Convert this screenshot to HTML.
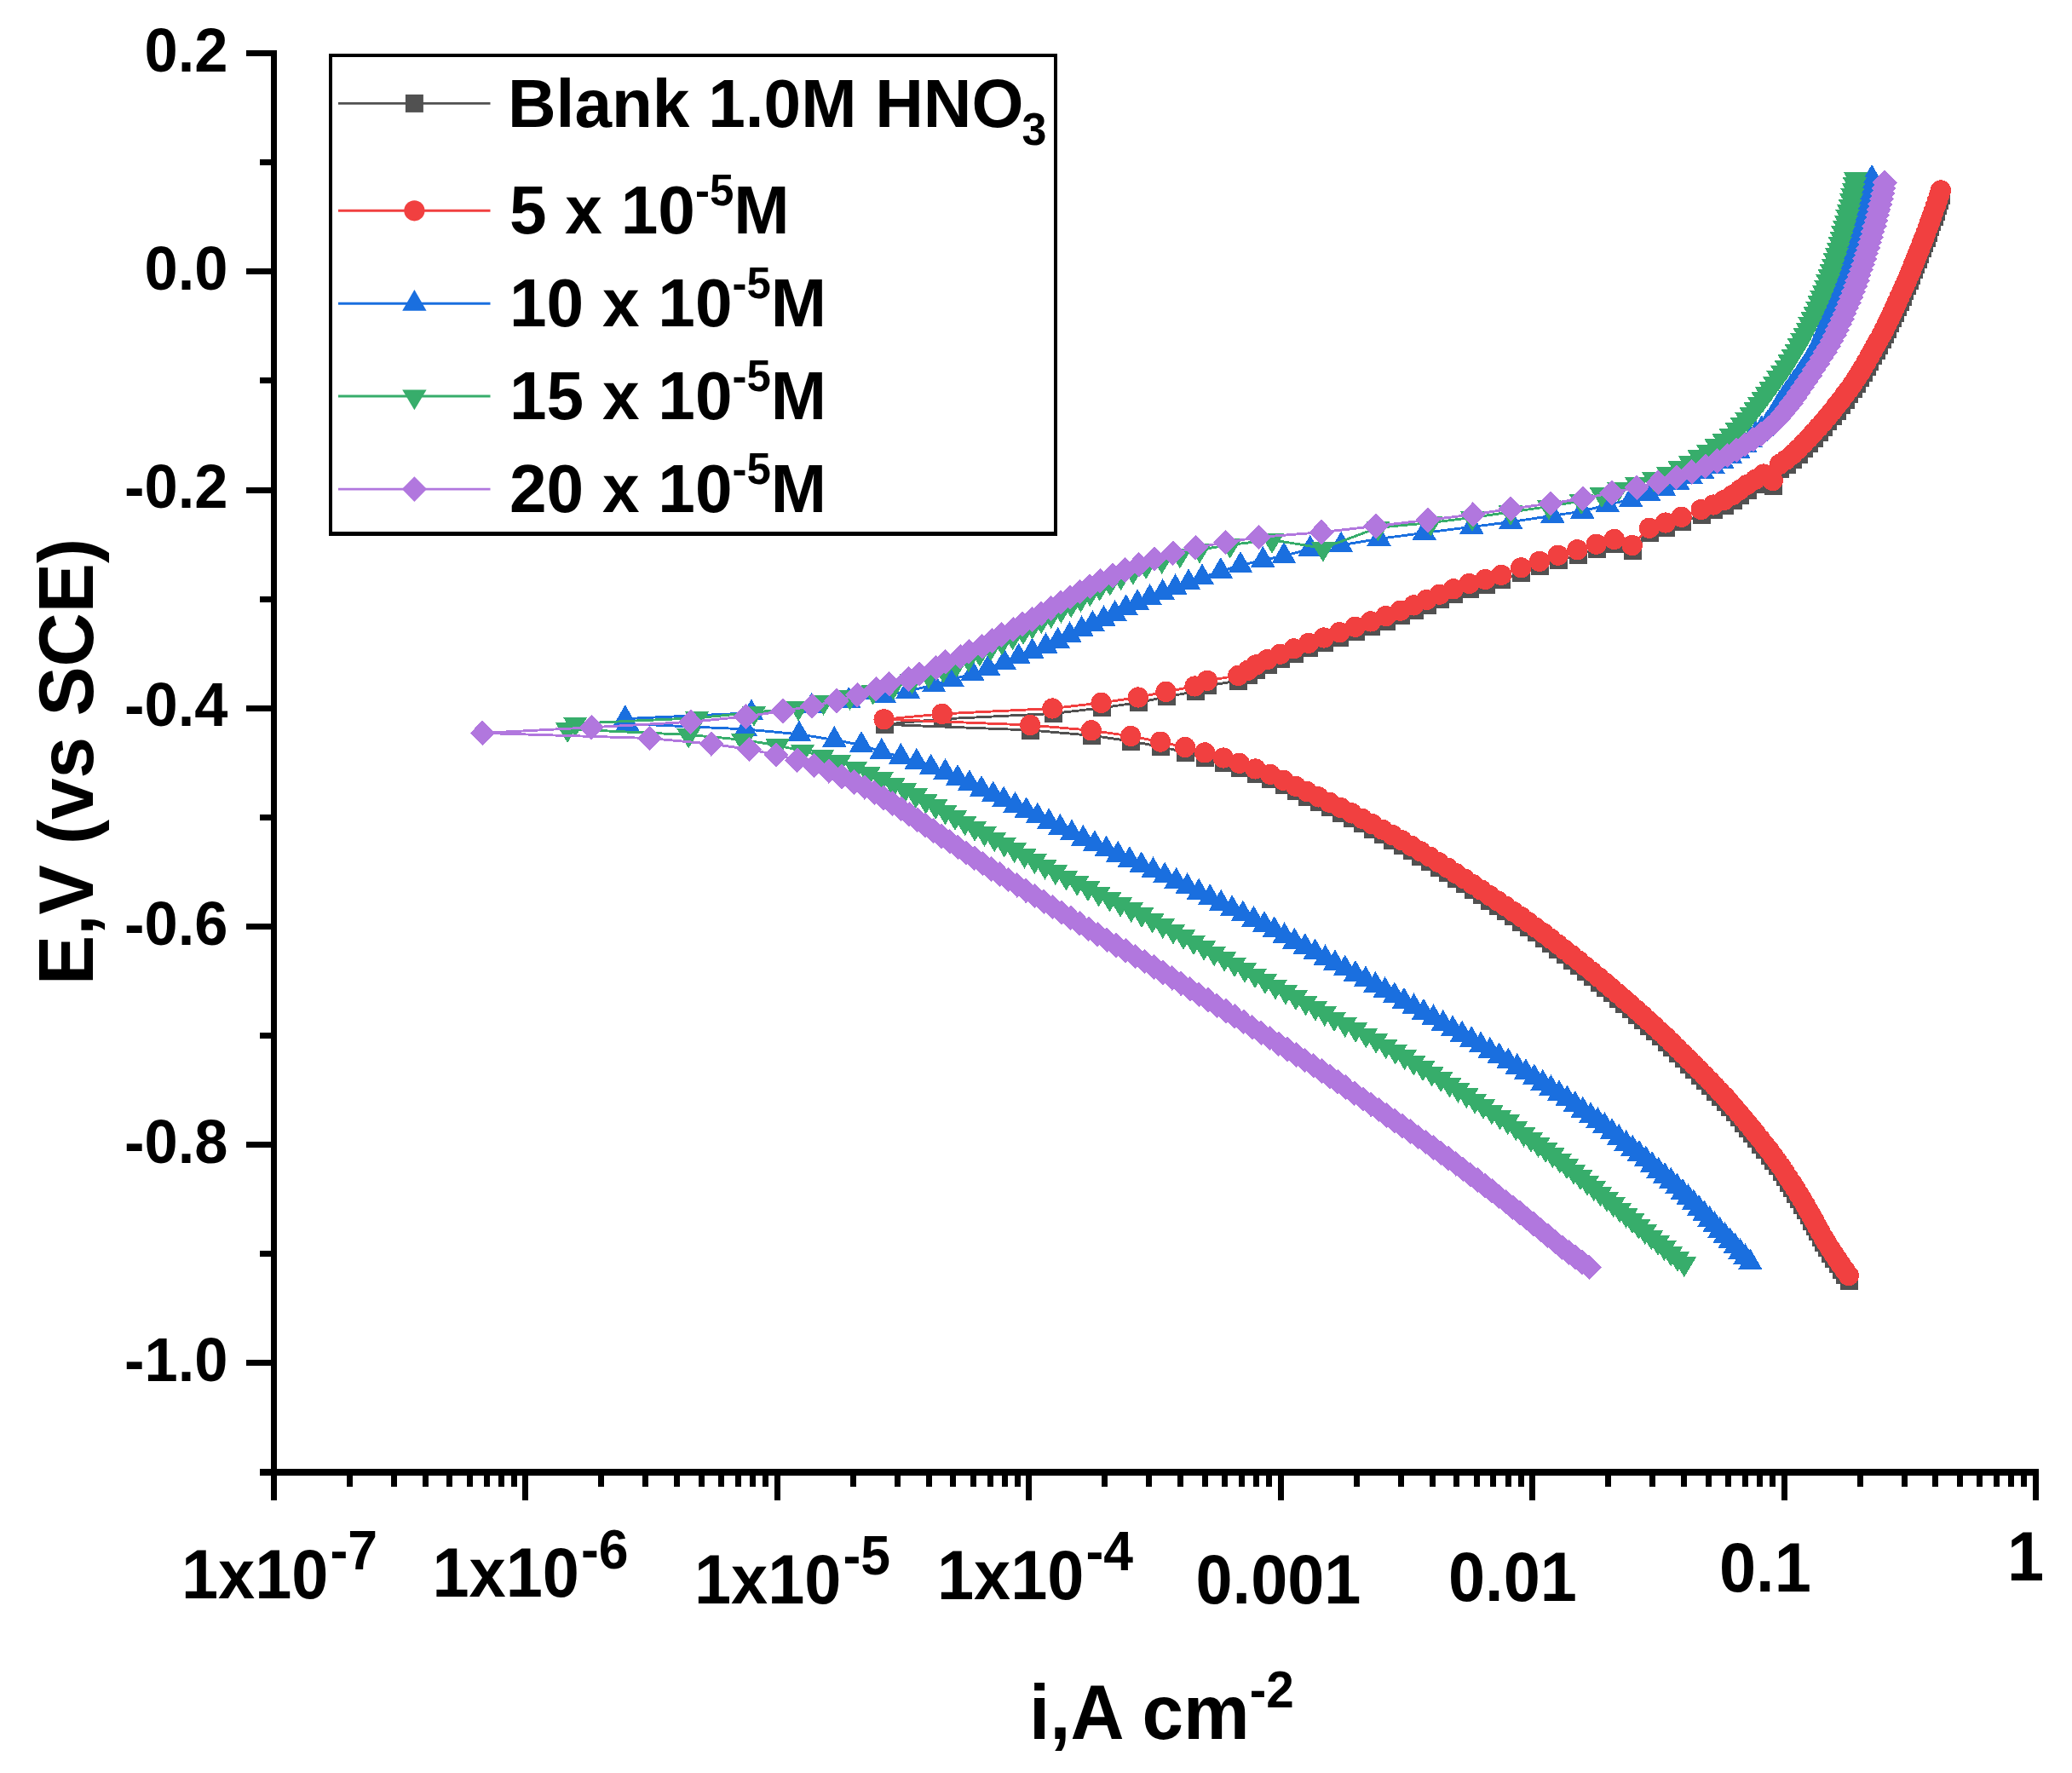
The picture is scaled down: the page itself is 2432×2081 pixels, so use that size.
<!DOCTYPE html>
<html lang="en"><head><meta charset="utf-8"><title>Polarization curves</title>
<style>html,body{margin:0;padding:0;background:#fff}svg{display:block}text{font-family:"Liberation Sans", Arial, Helvetica, sans-serif;font-weight:700;fill:#000}</style></head><body>
<svg width="2432" height="2081" viewBox="0 0 2432 2081">
<rect x="0" y="0" width="2432" height="2081" fill="#fff"/>
<g shape-rendering="crispEdges">
<polyline points="2170.5,1503.1 2165.9,1496.7 2161.4,1490.3 2157.1,1483.9 2152.8,1477.5 2148.6,1471.1 2144.6,1464.7 2140.8,1458.4 2137.1,1452.0 2133.6,1445.7 2130.1,1439.3 2126.7,1433.0 2123.2,1426.7 2119.6,1420.3 2115.8,1414.0 2111.9,1407.6 2107.9,1401.1 2103.8,1394.7 2099.6,1388.2 2095.4,1381.8 2091.0,1375.3 2086.5,1368.9 2081.8,1362.5 2077.0,1356.0 2071.9,1349.6 2066.8,1343.1 2061.7,1336.7 2056.7,1330.5 2051.7,1324.3 2046.6,1318.1 2041.4,1311.9 2036.1,1305.7 2030.6,1299.5 2025.1,1293.3 2019.4,1287.2 2013.6,1281.0 2007.7,1274.8 2001.5,1268.4 1995.3,1262.0 1988.9,1255.6 1982.5,1249.2 1976.1,1242.8 1969.5,1236.3 1962.9,1229.7 1956.1,1223.2 1949.3,1216.8 1942.4,1210.4 1935.5,1204.1 1928.4,1197.7 1921.3,1191.3 1914.1,1184.9 1906.9,1178.5 1899.5,1172.1 1892.1,1165.8 1884.6,1159.4 1877.0,1153.0 1869.2,1146.5 1861.3,1140.1 1853.4,1133.6 1845.3,1127.1 1837.2,1120.7 1828.9,1114.2 1820.5,1107.7 1812.0,1101.2 1803.3,1094.8 1794.5,1088.3 1785.8,1082.0 1776.7,1075.8 1767.5,1069.5 1758.2,1063.3 1748.8,1057.0 1739.1,1050.5 1729.3,1044.0 1719.5,1037.5 1709.6,1031.1 1699.5,1024.6 1689.2,1018.1 1678.6,1011.6 1667.9,1005.2 1657.1,998.8 1646.0,992.4 1634.7,986.0 1623.2,979.6 1611.4,973.2 1599.4,966.8 1587.1,960.4 1574.4,954.1 1561.3,947.8 1548.1,941.4 1534.7,935.1 1521.3,928.7 1507.0,921.8 1491.5,914.9 1474.1,908.5 1455.3,901.8 1436.4,895.5 1414.7,889.4 1391.6,883.0 1362.6,876.6 1327.8,870.0 1281.5,863.3 1209.7,857.0 1038.2,850.3 1106.3,843.9 1236.0,837.5 1293.1,830.9 1336.5,824.5 1369.0,817.9 1403.1,811.5 1417.6,804.8 1453.8,799.0 1465.7,792.7 1474.9,786.4 1488.2,780.0 1503.2,773.7 1519.4,767.3 1536.6,760.9 1554.5,754.5 1572.8,748.2 1591.2,741.8 1609.5,735.4 1627.3,729.1 1644.3,722.7 1660.1,716.4 1675.1,710.0 1690.3,703.7 1706.6,697.3 1725.1,691.0 1744.0,686.0 1762.8,680.9 1785.9,672.2 1807.6,664.9 1829.4,657.7 1852.0,651.3 1874.3,644.7 1895.4,638.9 1916.3,646.1 1936.5,625.8 1955.4,619.5 1974.2,612.8 1997.3,604.0 2011.7,598.5 2024.3,593.0 2034.3,587.0 2042.6,581.0 2051.1,575.0 2060.8,568.8 2070.6,562.5 2081.3,570.1 2089.6,550.8 2097.0,545.6 2104.5,539.3 2111.3,533.0 2117.5,526.6 2123.4,520.3 2129.2,514.0 2135.0,507.6 2140.6,501.3 2145.9,494.9 2151.1,488.6 2156.2,482.2 2161.2,475.8 2166.1,469.3 2170.8,462.9 2175.3,456.4 2179.6,450.0 2183.7,443.6 2187.5,437.2 2191.3,430.7 2194.9,424.3 2198.5,417.9 2202.0,411.5 2205.5,405.2 2209.0,398.8 2212.3,392.5 2215.5,386.1 2218.6,379.8 2221.6,373.4 2224.5,367.1 2227.3,360.7 2230.2,354.4 2233.0,348.1 2235.8,341.9 2238.6,335.6 2241.3,329.4 2243.9,323.1 2246.4,316.9 2248.9,310.6 2251.4,304.4 2253.9,298.1 2256.3,291.9 2258.7,285.6 2261.1,279.4 2263.4,273.1 2265.7,266.9 2267.9,260.6 2270.1,254.4 2272.3,248.1 2274.4,241.9 2276.5,235.6 2278.5,229.4" fill="none" stroke="#515151" stroke-width="2.9" stroke-linejoin="round"/>
<path d="M2160.0 1492.6h21.0v21.0h-21.0zM2155.4 1486.2h21.0v21.0h-21.0zM2150.9 1479.8h21.0v21.0h-21.0zM2146.6 1473.4h21.0v21.0h-21.0zM2142.3 1467.0h21.0v21.0h-21.0zM2138.1 1460.6h21.0v21.0h-21.0zM2134.1 1454.2h21.0v21.0h-21.0zM2130.3 1447.9h21.0v21.0h-21.0zM2126.6 1441.5h21.0v21.0h-21.0zM2123.1 1435.2h21.0v21.0h-21.0zM2119.6 1428.8h21.0v21.0h-21.0zM2116.2 1422.5h21.0v21.0h-21.0zM2112.7 1416.2h21.0v21.0h-21.0zM2109.1 1409.8h21.0v21.0h-21.0zM2105.3 1403.5h21.0v21.0h-21.0zM2101.4 1397.1h21.0v21.0h-21.0zM2097.4 1390.6h21.0v21.0h-21.0zM2093.3 1384.2h21.0v21.0h-21.0zM2089.1 1377.7h21.0v21.0h-21.0zM2084.9 1371.3h21.0v21.0h-21.0zM2080.5 1364.8h21.0v21.0h-21.0zM2076.0 1358.4h21.0v21.0h-21.0zM2071.3 1352.0h21.0v21.0h-21.0zM2066.5 1345.5h21.0v21.0h-21.0zM2061.4 1339.1h21.0v21.0h-21.0zM2056.3 1332.6h21.0v21.0h-21.0zM2051.2 1326.2h21.0v21.0h-21.0zM2046.2 1320.0h21.0v21.0h-21.0zM2041.2 1313.8h21.0v21.0h-21.0zM2036.1 1307.6h21.0v21.0h-21.0zM2030.9 1301.4h21.0v21.0h-21.0zM2025.6 1295.2h21.0v21.0h-21.0zM2020.1 1289.0h21.0v21.0h-21.0zM2014.6 1282.8h21.0v21.0h-21.0zM2008.9 1276.7h21.0v21.0h-21.0zM2003.1 1270.5h21.0v21.0h-21.0zM1997.2 1264.3h21.0v21.0h-21.0zM1991.0 1257.9h21.0v21.0h-21.0zM1984.8 1251.5h21.0v21.0h-21.0zM1978.4 1245.1h21.0v21.0h-21.0zM1972.0 1238.7h21.0v21.0h-21.0zM1965.6 1232.3h21.0v21.0h-21.0zM1959.0 1225.8h21.0v21.0h-21.0zM1952.4 1219.2h21.0v21.0h-21.0zM1945.6 1212.7h21.0v21.0h-21.0zM1938.8 1206.3h21.0v21.0h-21.0zM1931.9 1199.9h21.0v21.0h-21.0zM1925.0 1193.6h21.0v21.0h-21.0zM1917.9 1187.2h21.0v21.0h-21.0zM1910.8 1180.8h21.0v21.0h-21.0zM1903.6 1174.4h21.0v21.0h-21.0zM1896.4 1168.0h21.0v21.0h-21.0zM1889.0 1161.6h21.0v21.0h-21.0zM1881.6 1155.3h21.0v21.0h-21.0zM1874.1 1148.9h21.0v21.0h-21.0zM1866.5 1142.5h21.0v21.0h-21.0zM1858.7 1136.0h21.0v21.0h-21.0zM1850.8 1129.6h21.0v21.0h-21.0zM1842.9 1123.1h21.0v21.0h-21.0zM1834.8 1116.6h21.0v21.0h-21.0zM1826.7 1110.2h21.0v21.0h-21.0zM1818.4 1103.7h21.0v21.0h-21.0zM1810.0 1097.2h21.0v21.0h-21.0zM1801.5 1090.7h21.0v21.0h-21.0zM1792.8 1084.3h21.0v21.0h-21.0zM1784.0 1077.8h21.0v21.0h-21.0zM1775.3 1071.5h21.0v21.0h-21.0zM1766.2 1065.3h21.0v21.0h-21.0zM1757.0 1059.0h21.0v21.0h-21.0zM1747.7 1052.8h21.0v21.0h-21.0zM1738.3 1046.5h21.0v21.0h-21.0zM1728.6 1040.0h21.0v21.0h-21.0zM1718.8 1033.5h21.0v21.0h-21.0zM1709.0 1027.0h21.0v21.0h-21.0zM1699.1 1020.6h21.0v21.0h-21.0zM1689.0 1014.1h21.0v21.0h-21.0zM1678.7 1007.6h21.0v21.0h-21.0zM1668.1 1001.1h21.0v21.0h-21.0zM1657.4 994.7h21.0v21.0h-21.0zM1646.6 988.3h21.0v21.0h-21.0zM1635.5 981.9h21.0v21.0h-21.0zM1624.2 975.5h21.0v21.0h-21.0zM1612.7 969.1h21.0v21.0h-21.0zM1600.9 962.7h21.0v21.0h-21.0zM1588.9 956.3h21.0v21.0h-21.0zM1576.6 949.9h21.0v21.0h-21.0zM1563.9 943.6h21.0v21.0h-21.0zM1550.8 937.2h21.0v21.0h-21.0zM1537.6 930.9h21.0v21.0h-21.0zM1524.2 924.6h21.0v21.0h-21.0zM1510.8 918.2h21.0v21.0h-21.0zM1496.5 911.3h21.0v21.0h-21.0zM1481.0 904.4h21.0v21.0h-21.0zM1463.6 898.0h21.0v21.0h-21.0zM1444.8 891.3h21.0v21.0h-21.0zM1425.9 885.0h21.0v21.0h-21.0zM1404.2 878.9h21.0v21.0h-21.0zM1381.1 872.5h21.0v21.0h-21.0zM1352.1 866.1h21.0v21.0h-21.0zM1317.3 859.5h21.0v21.0h-21.0zM1271.0 852.8h21.0v21.0h-21.0zM1199.2 846.5h21.0v21.0h-21.0zM1027.7 839.8h21.0v21.0h-21.0zM1095.8 833.4h21.0v21.0h-21.0zM1225.5 827.0h21.0v21.0h-21.0zM1282.6 820.4h21.0v21.0h-21.0zM1326.0 814.0h21.0v21.0h-21.0zM1358.5 807.4h21.0v21.0h-21.0zM1392.6 801.0h21.0v21.0h-21.0zM1407.1 794.3h21.0v21.0h-21.0zM1443.3 788.5h21.0v21.0h-21.0zM1455.2 782.2h21.0v21.0h-21.0zM1464.4 775.9h21.0v21.0h-21.0zM1477.7 769.5h21.0v21.0h-21.0zM1492.7 763.2h21.0v21.0h-21.0zM1508.9 756.8h21.0v21.0h-21.0zM1526.1 750.4h21.0v21.0h-21.0zM1544.0 744.0h21.0v21.0h-21.0zM1562.3 737.7h21.0v21.0h-21.0zM1580.7 731.3h21.0v21.0h-21.0zM1599.0 724.9h21.0v21.0h-21.0zM1616.8 718.6h21.0v21.0h-21.0zM1633.8 712.2h21.0v21.0h-21.0zM1649.6 705.9h21.0v21.0h-21.0zM1664.6 699.5h21.0v21.0h-21.0zM1679.8 693.2h21.0v21.0h-21.0zM1696.1 686.8h21.0v21.0h-21.0zM1714.6 680.5h21.0v21.0h-21.0zM1733.5 675.5h21.0v21.0h-21.0zM1752.3 670.4h21.0v21.0h-21.0zM1775.4 661.7h21.0v21.0h-21.0zM1797.1 654.4h21.0v21.0h-21.0zM1818.9 647.2h21.0v21.0h-21.0zM1841.5 640.8h21.0v21.0h-21.0zM1863.8 634.2h21.0v21.0h-21.0zM1884.9 628.4h21.0v21.0h-21.0zM1905.8 635.6h21.0v21.0h-21.0zM1926.0 615.3h21.0v21.0h-21.0zM1944.9 609.0h21.0v21.0h-21.0zM1963.7 602.3h21.0v21.0h-21.0zM1986.8 593.5h21.0v21.0h-21.0zM2001.2 588.0h21.0v21.0h-21.0zM2013.8 582.5h21.0v21.0h-21.0zM2023.8 576.5h21.0v21.0h-21.0zM2032.1 570.5h21.0v21.0h-21.0zM2040.6 564.5h21.0v21.0h-21.0zM2050.3 558.2h21.0v21.0h-21.0zM2060.1 552.0h21.0v21.0h-21.0zM2070.8 559.6h21.0v21.0h-21.0zM2079.1 540.3h21.0v21.0h-21.0zM2086.5 535.1h21.0v21.0h-21.0zM2094.0 528.8h21.0v21.0h-21.0zM2100.8 522.5h21.0v21.0h-21.0zM2107.0 516.1h21.0v21.0h-21.0zM2112.9 509.8h21.0v21.0h-21.0zM2118.7 503.5h21.0v21.0h-21.0zM2124.5 497.1h21.0v21.0h-21.0zM2130.1 490.8h21.0v21.0h-21.0zM2135.4 484.4h21.0v21.0h-21.0zM2140.6 478.1h21.0v21.0h-21.0zM2145.7 471.7h21.0v21.0h-21.0zM2150.7 465.3h21.0v21.0h-21.0zM2155.6 458.8h21.0v21.0h-21.0zM2160.3 452.4h21.0v21.0h-21.0zM2164.8 445.9h21.0v21.0h-21.0zM2169.1 439.5h21.0v21.0h-21.0zM2173.2 433.1h21.0v21.0h-21.0zM2177.0 426.7h21.0v21.0h-21.0zM2180.8 420.2h21.0v21.0h-21.0zM2184.4 413.8h21.0v21.0h-21.0zM2188.0 407.4h21.0v21.0h-21.0zM2191.5 401.0h21.0v21.0h-21.0zM2195.0 394.7h21.0v21.0h-21.0zM2198.5 388.3h21.0v21.0h-21.0zM2201.8 382.0h21.0v21.0h-21.0zM2205.0 375.6h21.0v21.0h-21.0zM2208.1 369.3h21.0v21.0h-21.0zM2211.1 362.9h21.0v21.0h-21.0zM2214.0 356.6h21.0v21.0h-21.0zM2216.8 350.2h21.0v21.0h-21.0zM2219.7 343.9h21.0v21.0h-21.0zM2222.5 337.6h21.0v21.0h-21.0zM2225.3 331.4h21.0v21.0h-21.0zM2228.1 325.1h21.0v21.0h-21.0zM2230.8 318.9h21.0v21.0h-21.0zM2233.4 312.6h21.0v21.0h-21.0zM2235.9 306.4h21.0v21.0h-21.0zM2238.4 300.1h21.0v21.0h-21.0zM2240.9 293.9h21.0v21.0h-21.0zM2243.4 287.6h21.0v21.0h-21.0zM2245.8 281.4h21.0v21.0h-21.0zM2248.2 275.1h21.0v21.0h-21.0zM2250.6 268.9h21.0v21.0h-21.0zM2252.9 262.6h21.0v21.0h-21.0zM2255.2 256.4h21.0v21.0h-21.0zM2257.4 250.1h21.0v21.0h-21.0zM2259.6 243.9h21.0v21.0h-21.0zM2261.8 237.6h21.0v21.0h-21.0zM2263.9 231.4h21.0v21.0h-21.0zM2266.0 225.1h21.0v21.0h-21.0zM2268.0 218.9h21.0v21.0h-21.0z" fill="#515151"/>
<polyline points="2169.9,1497.1 2165.3,1490.7 2160.8,1484.3 2156.5,1477.9 2152.2,1471.5 2148.0,1465.1 2144.0,1458.7 2140.2,1452.4 2136.5,1446.0 2133.0,1439.7 2129.5,1433.3 2126.1,1427.0 2122.6,1420.7 2119.0,1414.3 2115.2,1408.0 2111.3,1401.6 2107.3,1395.1 2103.2,1388.7 2099.0,1382.2 2094.8,1375.8 2090.4,1369.3 2085.9,1362.9 2081.2,1356.5 2076.4,1350.0 2071.3,1343.6 2066.2,1337.1 2061.1,1330.7 2056.1,1324.5 2051.1,1318.3 2046.0,1312.1 2040.8,1305.9 2035.5,1299.7 2030.0,1293.5 2024.5,1287.3 2018.8,1281.2 2013.0,1275.0 2007.1,1268.8 2000.9,1262.4 1994.7,1256.0 1988.3,1249.6 1981.9,1243.2 1975.5,1236.8 1968.9,1230.3 1962.3,1223.7 1955.5,1217.2 1948.7,1210.8 1941.8,1204.4 1934.9,1198.1 1927.8,1191.7 1920.7,1185.3 1913.5,1178.9 1906.3,1172.5 1898.9,1166.1 1891.5,1159.8 1884.0,1153.4 1876.4,1147.0 1868.6,1140.5 1860.7,1134.1 1852.8,1127.6 1844.7,1121.1 1836.6,1114.7 1828.3,1108.2 1819.9,1101.7 1811.4,1095.2 1802.7,1088.8 1793.9,1082.3 1785.2,1076.0 1776.1,1069.8 1766.9,1063.5 1757.6,1057.3 1748.2,1051.0 1738.5,1044.5 1728.7,1038.0 1718.9,1031.5 1709.0,1025.1 1698.9,1018.6 1688.6,1012.1 1678.0,1005.6 1667.3,999.2 1656.5,992.8 1645.4,986.4 1634.1,980.0 1622.6,973.6 1610.8,967.2 1598.8,960.8 1586.5,954.4 1573.8,948.1 1560.7,941.8 1547.5,935.4 1534.1,929.1 1520.7,922.7 1506.4,915.8 1490.9,908.9 1473.5,902.5 1454.7,895.8 1435.8,889.5 1414.1,883.4 1391.0,877.0 1362.0,870.6 1327.2,864.0 1280.9,857.3 1209.1,851.0 1037.6,844.3 1105.7,837.9 1235.4,831.5 1292.5,824.9 1335.9,818.5 1368.4,811.9 1402.5,805.5 1417.0,798.8 1453.2,793.0 1465.1,786.7 1474.3,780.4 1487.6,774.0 1502.6,767.7 1518.8,761.3 1536.0,754.9 1553.9,748.5 1572.2,742.2 1590.6,735.8 1608.9,729.4 1626.7,723.1 1643.7,716.7 1659.5,710.4 1674.5,704.0 1689.7,697.7 1706.0,691.3 1724.5,685.0 1743.4,680.0 1762.2,674.9 1785.3,666.2 1807.0,658.9 1828.8,651.7 1851.4,645.3 1873.7,638.7 1894.8,632.9 1915.7,640.1 1935.9,619.8 1954.8,613.5 1973.6,606.8 1996.7,598.0 2011.1,592.5 2023.7,587.0 2033.7,581.0 2042.0,575.0 2050.5,569.0 2060.2,562.8 2070.0,556.5 2080.7,564.1 2089.0,544.8 2096.4,539.6 2103.9,533.3 2110.7,527.0 2116.9,520.6 2122.8,514.3 2128.6,508.0 2134.4,501.6 2140.0,495.3 2145.3,488.9 2150.5,482.6 2155.6,476.2 2160.6,469.8 2165.5,463.3 2170.2,456.9 2174.7,450.4 2179.0,444.0 2183.1,437.6 2186.9,431.2 2190.7,424.7 2194.3,418.3 2197.9,411.9 2201.4,405.5 2204.9,399.2 2208.4,392.8 2211.7,386.5 2214.9,380.1 2218.0,373.8 2221.0,367.4 2223.9,361.1 2226.7,354.7 2229.6,348.4 2232.4,342.1 2235.2,335.9 2238.0,329.6 2240.7,323.4 2243.3,317.1 2245.8,310.9 2248.3,304.6 2250.8,298.4 2253.3,292.1 2255.7,285.9 2258.1,279.6 2260.5,273.4 2262.8,267.1 2265.1,260.9 2267.3,254.6 2269.5,248.4 2271.7,242.1 2273.8,235.9 2275.9,229.6 2277.9,223.4" fill="none" stroke="#F14040" stroke-width="2.9" stroke-linejoin="round"/>
<path d="M2157.8 1497.1a12.1 12.1 0 1 0 24.2 0a12.1 12.1 0 1 0 -24.2 0zM2153.2 1490.7a12.1 12.1 0 1 0 24.2 0a12.1 12.1 0 1 0 -24.2 0zM2148.7 1484.3a12.1 12.1 0 1 0 24.2 0a12.1 12.1 0 1 0 -24.2 0zM2144.4 1477.9a12.1 12.1 0 1 0 24.2 0a12.1 12.1 0 1 0 -24.2 0zM2140.1 1471.5a12.1 12.1 0 1 0 24.2 0a12.1 12.1 0 1 0 -24.2 0zM2135.9 1465.1a12.1 12.1 0 1 0 24.2 0a12.1 12.1 0 1 0 -24.2 0zM2131.9 1458.7a12.1 12.1 0 1 0 24.2 0a12.1 12.1 0 1 0 -24.2 0zM2128.1 1452.4a12.1 12.1 0 1 0 24.2 0a12.1 12.1 0 1 0 -24.2 0zM2124.4 1446.0a12.1 12.1 0 1 0 24.2 0a12.1 12.1 0 1 0 -24.2 0zM2120.9 1439.7a12.1 12.1 0 1 0 24.2 0a12.1 12.1 0 1 0 -24.2 0zM2117.4 1433.3a12.1 12.1 0 1 0 24.2 0a12.1 12.1 0 1 0 -24.2 0zM2114.0 1427.0a12.1 12.1 0 1 0 24.2 0a12.1 12.1 0 1 0 -24.2 0zM2110.5 1420.7a12.1 12.1 0 1 0 24.2 0a12.1 12.1 0 1 0 -24.2 0zM2106.9 1414.3a12.1 12.1 0 1 0 24.2 0a12.1 12.1 0 1 0 -24.2 0zM2103.1 1408.0a12.1 12.1 0 1 0 24.2 0a12.1 12.1 0 1 0 -24.2 0zM2099.2 1401.6a12.1 12.1 0 1 0 24.2 0a12.1 12.1 0 1 0 -24.2 0zM2095.2 1395.1a12.1 12.1 0 1 0 24.2 0a12.1 12.1 0 1 0 -24.2 0zM2091.1 1388.7a12.1 12.1 0 1 0 24.2 0a12.1 12.1 0 1 0 -24.2 0zM2086.9 1382.2a12.1 12.1 0 1 0 24.2 0a12.1 12.1 0 1 0 -24.2 0zM2082.7 1375.8a12.1 12.1 0 1 0 24.2 0a12.1 12.1 0 1 0 -24.2 0zM2078.3 1369.3a12.1 12.1 0 1 0 24.2 0a12.1 12.1 0 1 0 -24.2 0zM2073.8 1362.9a12.1 12.1 0 1 0 24.2 0a12.1 12.1 0 1 0 -24.2 0zM2069.1 1356.5a12.1 12.1 0 1 0 24.2 0a12.1 12.1 0 1 0 -24.2 0zM2064.3 1350.0a12.1 12.1 0 1 0 24.2 0a12.1 12.1 0 1 0 -24.2 0zM2059.2 1343.6a12.1 12.1 0 1 0 24.2 0a12.1 12.1 0 1 0 -24.2 0zM2054.1 1337.1a12.1 12.1 0 1 0 24.2 0a12.1 12.1 0 1 0 -24.2 0zM2049.0 1330.7a12.1 12.1 0 1 0 24.2 0a12.1 12.1 0 1 0 -24.2 0zM2044.0 1324.5a12.1 12.1 0 1 0 24.2 0a12.1 12.1 0 1 0 -24.2 0zM2039.0 1318.3a12.1 12.1 0 1 0 24.2 0a12.1 12.1 0 1 0 -24.2 0zM2033.9 1312.1a12.1 12.1 0 1 0 24.2 0a12.1 12.1 0 1 0 -24.2 0zM2028.7 1305.9a12.1 12.1 0 1 0 24.2 0a12.1 12.1 0 1 0 -24.2 0zM2023.4 1299.7a12.1 12.1 0 1 0 24.2 0a12.1 12.1 0 1 0 -24.2 0zM2017.9 1293.5a12.1 12.1 0 1 0 24.2 0a12.1 12.1 0 1 0 -24.2 0zM2012.4 1287.3a12.1 12.1 0 1 0 24.2 0a12.1 12.1 0 1 0 -24.2 0zM2006.7 1281.2a12.1 12.1 0 1 0 24.2 0a12.1 12.1 0 1 0 -24.2 0zM2000.9 1275.0a12.1 12.1 0 1 0 24.2 0a12.1 12.1 0 1 0 -24.2 0zM1995.0 1268.8a12.1 12.1 0 1 0 24.2 0a12.1 12.1 0 1 0 -24.2 0zM1988.8 1262.4a12.1 12.1 0 1 0 24.2 0a12.1 12.1 0 1 0 -24.2 0zM1982.6 1256.0a12.1 12.1 0 1 0 24.2 0a12.1 12.1 0 1 0 -24.2 0zM1976.2 1249.6a12.1 12.1 0 1 0 24.2 0a12.1 12.1 0 1 0 -24.2 0zM1969.8 1243.2a12.1 12.1 0 1 0 24.2 0a12.1 12.1 0 1 0 -24.2 0zM1963.4 1236.8a12.1 12.1 0 1 0 24.2 0a12.1 12.1 0 1 0 -24.2 0zM1956.8 1230.3a12.1 12.1 0 1 0 24.2 0a12.1 12.1 0 1 0 -24.2 0zM1950.2 1223.7a12.1 12.1 0 1 0 24.2 0a12.1 12.1 0 1 0 -24.2 0zM1943.4 1217.2a12.1 12.1 0 1 0 24.2 0a12.1 12.1 0 1 0 -24.2 0zM1936.6 1210.8a12.1 12.1 0 1 0 24.2 0a12.1 12.1 0 1 0 -24.2 0zM1929.7 1204.4a12.1 12.1 0 1 0 24.2 0a12.1 12.1 0 1 0 -24.2 0zM1922.8 1198.1a12.1 12.1 0 1 0 24.2 0a12.1 12.1 0 1 0 -24.2 0zM1915.7 1191.7a12.1 12.1 0 1 0 24.2 0a12.1 12.1 0 1 0 -24.2 0zM1908.6 1185.3a12.1 12.1 0 1 0 24.2 0a12.1 12.1 0 1 0 -24.2 0zM1901.4 1178.9a12.1 12.1 0 1 0 24.2 0a12.1 12.1 0 1 0 -24.2 0zM1894.2 1172.5a12.1 12.1 0 1 0 24.2 0a12.1 12.1 0 1 0 -24.2 0zM1886.8 1166.1a12.1 12.1 0 1 0 24.2 0a12.1 12.1 0 1 0 -24.2 0zM1879.4 1159.8a12.1 12.1 0 1 0 24.2 0a12.1 12.1 0 1 0 -24.2 0zM1871.9 1153.4a12.1 12.1 0 1 0 24.2 0a12.1 12.1 0 1 0 -24.2 0zM1864.3 1147.0a12.1 12.1 0 1 0 24.2 0a12.1 12.1 0 1 0 -24.2 0zM1856.5 1140.5a12.1 12.1 0 1 0 24.2 0a12.1 12.1 0 1 0 -24.2 0zM1848.6 1134.1a12.1 12.1 0 1 0 24.2 0a12.1 12.1 0 1 0 -24.2 0zM1840.7 1127.6a12.1 12.1 0 1 0 24.2 0a12.1 12.1 0 1 0 -24.2 0zM1832.6 1121.1a12.1 12.1 0 1 0 24.2 0a12.1 12.1 0 1 0 -24.2 0zM1824.5 1114.7a12.1 12.1 0 1 0 24.2 0a12.1 12.1 0 1 0 -24.2 0zM1816.2 1108.2a12.1 12.1 0 1 0 24.2 0a12.1 12.1 0 1 0 -24.2 0zM1807.8 1101.7a12.1 12.1 0 1 0 24.2 0a12.1 12.1 0 1 0 -24.2 0zM1799.3 1095.2a12.1 12.1 0 1 0 24.2 0a12.1 12.1 0 1 0 -24.2 0zM1790.6 1088.8a12.1 12.1 0 1 0 24.2 0a12.1 12.1 0 1 0 -24.2 0zM1781.8 1082.3a12.1 12.1 0 1 0 24.2 0a12.1 12.1 0 1 0 -24.2 0zM1773.1 1076.0a12.1 12.1 0 1 0 24.2 0a12.1 12.1 0 1 0 -24.2 0zM1764.0 1069.8a12.1 12.1 0 1 0 24.2 0a12.1 12.1 0 1 0 -24.2 0zM1754.8 1063.5a12.1 12.1 0 1 0 24.2 0a12.1 12.1 0 1 0 -24.2 0zM1745.5 1057.3a12.1 12.1 0 1 0 24.2 0a12.1 12.1 0 1 0 -24.2 0zM1736.1 1051.0a12.1 12.1 0 1 0 24.2 0a12.1 12.1 0 1 0 -24.2 0zM1726.4 1044.5a12.1 12.1 0 1 0 24.2 0a12.1 12.1 0 1 0 -24.2 0zM1716.6 1038.0a12.1 12.1 0 1 0 24.2 0a12.1 12.1 0 1 0 -24.2 0zM1706.8 1031.5a12.1 12.1 0 1 0 24.2 0a12.1 12.1 0 1 0 -24.2 0zM1696.9 1025.1a12.1 12.1 0 1 0 24.2 0a12.1 12.1 0 1 0 -24.2 0zM1686.8 1018.6a12.1 12.1 0 1 0 24.2 0a12.1 12.1 0 1 0 -24.2 0zM1676.5 1012.1a12.1 12.1 0 1 0 24.2 0a12.1 12.1 0 1 0 -24.2 0zM1665.9 1005.6a12.1 12.1 0 1 0 24.2 0a12.1 12.1 0 1 0 -24.2 0zM1655.2 999.2a12.1 12.1 0 1 0 24.2 0a12.1 12.1 0 1 0 -24.2 0zM1644.4 992.8a12.1 12.1 0 1 0 24.2 0a12.1 12.1 0 1 0 -24.2 0zM1633.3 986.4a12.1 12.1 0 1 0 24.2 0a12.1 12.1 0 1 0 -24.2 0zM1622.0 980.0a12.1 12.1 0 1 0 24.2 0a12.1 12.1 0 1 0 -24.2 0zM1610.5 973.6a12.1 12.1 0 1 0 24.2 0a12.1 12.1 0 1 0 -24.2 0zM1598.7 967.2a12.1 12.1 0 1 0 24.2 0a12.1 12.1 0 1 0 -24.2 0zM1586.7 960.8a12.1 12.1 0 1 0 24.2 0a12.1 12.1 0 1 0 -24.2 0zM1574.4 954.4a12.1 12.1 0 1 0 24.2 0a12.1 12.1 0 1 0 -24.2 0zM1561.7 948.1a12.1 12.1 0 1 0 24.2 0a12.1 12.1 0 1 0 -24.2 0zM1548.6 941.8a12.1 12.1 0 1 0 24.2 0a12.1 12.1 0 1 0 -24.2 0zM1535.4 935.4a12.1 12.1 0 1 0 24.2 0a12.1 12.1 0 1 0 -24.2 0zM1522.0 929.1a12.1 12.1 0 1 0 24.2 0a12.1 12.1 0 1 0 -24.2 0zM1508.6 922.7a12.1 12.1 0 1 0 24.2 0a12.1 12.1 0 1 0 -24.2 0zM1494.3 915.8a12.1 12.1 0 1 0 24.2 0a12.1 12.1 0 1 0 -24.2 0zM1478.8 908.9a12.1 12.1 0 1 0 24.2 0a12.1 12.1 0 1 0 -24.2 0zM1461.4 902.5a12.1 12.1 0 1 0 24.2 0a12.1 12.1 0 1 0 -24.2 0zM1442.6 895.8a12.1 12.1 0 1 0 24.2 0a12.1 12.1 0 1 0 -24.2 0zM1423.7 889.5a12.1 12.1 0 1 0 24.2 0a12.1 12.1 0 1 0 -24.2 0zM1402.0 883.4a12.1 12.1 0 1 0 24.2 0a12.1 12.1 0 1 0 -24.2 0zM1378.9 877.0a12.1 12.1 0 1 0 24.2 0a12.1 12.1 0 1 0 -24.2 0zM1349.9 870.6a12.1 12.1 0 1 0 24.2 0a12.1 12.1 0 1 0 -24.2 0zM1315.1 864.0a12.1 12.1 0 1 0 24.2 0a12.1 12.1 0 1 0 -24.2 0zM1268.8 857.3a12.1 12.1 0 1 0 24.2 0a12.1 12.1 0 1 0 -24.2 0zM1197.0 851.0a12.1 12.1 0 1 0 24.2 0a12.1 12.1 0 1 0 -24.2 0zM1025.5 844.3a12.1 12.1 0 1 0 24.2 0a12.1 12.1 0 1 0 -24.2 0zM1093.6 837.9a12.1 12.1 0 1 0 24.2 0a12.1 12.1 0 1 0 -24.2 0zM1223.3 831.5a12.1 12.1 0 1 0 24.2 0a12.1 12.1 0 1 0 -24.2 0zM1280.4 824.9a12.1 12.1 0 1 0 24.2 0a12.1 12.1 0 1 0 -24.2 0zM1323.8 818.5a12.1 12.1 0 1 0 24.2 0a12.1 12.1 0 1 0 -24.2 0zM1356.3 811.9a12.1 12.1 0 1 0 24.2 0a12.1 12.1 0 1 0 -24.2 0zM1390.4 805.5a12.1 12.1 0 1 0 24.2 0a12.1 12.1 0 1 0 -24.2 0zM1404.9 798.8a12.1 12.1 0 1 0 24.2 0a12.1 12.1 0 1 0 -24.2 0zM1441.1 793.0a12.1 12.1 0 1 0 24.2 0a12.1 12.1 0 1 0 -24.2 0zM1453.0 786.7a12.1 12.1 0 1 0 24.2 0a12.1 12.1 0 1 0 -24.2 0zM1462.2 780.4a12.1 12.1 0 1 0 24.2 0a12.1 12.1 0 1 0 -24.2 0zM1475.5 774.0a12.1 12.1 0 1 0 24.2 0a12.1 12.1 0 1 0 -24.2 0zM1490.5 767.7a12.1 12.1 0 1 0 24.2 0a12.1 12.1 0 1 0 -24.2 0zM1506.7 761.3a12.1 12.1 0 1 0 24.2 0a12.1 12.1 0 1 0 -24.2 0zM1523.9 754.9a12.1 12.1 0 1 0 24.2 0a12.1 12.1 0 1 0 -24.2 0zM1541.8 748.5a12.1 12.1 0 1 0 24.2 0a12.1 12.1 0 1 0 -24.2 0zM1560.1 742.2a12.1 12.1 0 1 0 24.2 0a12.1 12.1 0 1 0 -24.2 0zM1578.5 735.8a12.1 12.1 0 1 0 24.2 0a12.1 12.1 0 1 0 -24.2 0zM1596.8 729.4a12.1 12.1 0 1 0 24.2 0a12.1 12.1 0 1 0 -24.2 0zM1614.6 723.1a12.1 12.1 0 1 0 24.2 0a12.1 12.1 0 1 0 -24.2 0zM1631.6 716.7a12.1 12.1 0 1 0 24.2 0a12.1 12.1 0 1 0 -24.2 0zM1647.4 710.4a12.1 12.1 0 1 0 24.2 0a12.1 12.1 0 1 0 -24.2 0zM1662.4 704.0a12.1 12.1 0 1 0 24.2 0a12.1 12.1 0 1 0 -24.2 0zM1677.6 697.7a12.1 12.1 0 1 0 24.2 0a12.1 12.1 0 1 0 -24.2 0zM1693.9 691.3a12.1 12.1 0 1 0 24.2 0a12.1 12.1 0 1 0 -24.2 0zM1712.4 685.0a12.1 12.1 0 1 0 24.2 0a12.1 12.1 0 1 0 -24.2 0zM1731.3 680.0a12.1 12.1 0 1 0 24.2 0a12.1 12.1 0 1 0 -24.2 0zM1750.1 674.9a12.1 12.1 0 1 0 24.2 0a12.1 12.1 0 1 0 -24.2 0zM1773.2 666.2a12.1 12.1 0 1 0 24.2 0a12.1 12.1 0 1 0 -24.2 0zM1794.9 658.9a12.1 12.1 0 1 0 24.2 0a12.1 12.1 0 1 0 -24.2 0zM1816.7 651.7a12.1 12.1 0 1 0 24.2 0a12.1 12.1 0 1 0 -24.2 0zM1839.3 645.3a12.1 12.1 0 1 0 24.2 0a12.1 12.1 0 1 0 -24.2 0zM1861.6 638.7a12.1 12.1 0 1 0 24.2 0a12.1 12.1 0 1 0 -24.2 0zM1882.7 632.9a12.1 12.1 0 1 0 24.2 0a12.1 12.1 0 1 0 -24.2 0zM1903.6 640.1a12.1 12.1 0 1 0 24.2 0a12.1 12.1 0 1 0 -24.2 0zM1923.8 619.8a12.1 12.1 0 1 0 24.2 0a12.1 12.1 0 1 0 -24.2 0zM1942.7 613.5a12.1 12.1 0 1 0 24.2 0a12.1 12.1 0 1 0 -24.2 0zM1961.5 606.8a12.1 12.1 0 1 0 24.2 0a12.1 12.1 0 1 0 -24.2 0zM1984.6 598.0a12.1 12.1 0 1 0 24.2 0a12.1 12.1 0 1 0 -24.2 0zM1999.0 592.5a12.1 12.1 0 1 0 24.2 0a12.1 12.1 0 1 0 -24.2 0zM2011.6 587.0a12.1 12.1 0 1 0 24.2 0a12.1 12.1 0 1 0 -24.2 0zM2021.6 581.0a12.1 12.1 0 1 0 24.2 0a12.1 12.1 0 1 0 -24.2 0zM2029.9 575.0a12.1 12.1 0 1 0 24.2 0a12.1 12.1 0 1 0 -24.2 0zM2038.4 569.0a12.1 12.1 0 1 0 24.2 0a12.1 12.1 0 1 0 -24.2 0zM2048.1 562.8a12.1 12.1 0 1 0 24.2 0a12.1 12.1 0 1 0 -24.2 0zM2057.9 556.5a12.1 12.1 0 1 0 24.2 0a12.1 12.1 0 1 0 -24.2 0zM2068.6 564.1a12.1 12.1 0 1 0 24.2 0a12.1 12.1 0 1 0 -24.2 0zM2076.9 544.8a12.1 12.1 0 1 0 24.2 0a12.1 12.1 0 1 0 -24.2 0zM2084.3 539.6a12.1 12.1 0 1 0 24.2 0a12.1 12.1 0 1 0 -24.2 0zM2091.8 533.3a12.1 12.1 0 1 0 24.2 0a12.1 12.1 0 1 0 -24.2 0zM2098.6 527.0a12.1 12.1 0 1 0 24.2 0a12.1 12.1 0 1 0 -24.2 0zM2104.8 520.6a12.1 12.1 0 1 0 24.2 0a12.1 12.1 0 1 0 -24.2 0zM2110.7 514.3a12.1 12.1 0 1 0 24.2 0a12.1 12.1 0 1 0 -24.2 0zM2116.5 508.0a12.1 12.1 0 1 0 24.2 0a12.1 12.1 0 1 0 -24.2 0zM2122.3 501.6a12.1 12.1 0 1 0 24.2 0a12.1 12.1 0 1 0 -24.2 0zM2127.9 495.3a12.1 12.1 0 1 0 24.2 0a12.1 12.1 0 1 0 -24.2 0zM2133.2 488.9a12.1 12.1 0 1 0 24.2 0a12.1 12.1 0 1 0 -24.2 0zM2138.4 482.6a12.1 12.1 0 1 0 24.2 0a12.1 12.1 0 1 0 -24.2 0zM2143.5 476.2a12.1 12.1 0 1 0 24.2 0a12.1 12.1 0 1 0 -24.2 0zM2148.5 469.8a12.1 12.1 0 1 0 24.2 0a12.1 12.1 0 1 0 -24.2 0zM2153.4 463.3a12.1 12.1 0 1 0 24.2 0a12.1 12.1 0 1 0 -24.2 0zM2158.1 456.9a12.1 12.1 0 1 0 24.2 0a12.1 12.1 0 1 0 -24.2 0zM2162.6 450.4a12.1 12.1 0 1 0 24.2 0a12.1 12.1 0 1 0 -24.2 0zM2166.9 444.0a12.1 12.1 0 1 0 24.2 0a12.1 12.1 0 1 0 -24.2 0zM2171.0 437.6a12.1 12.1 0 1 0 24.2 0a12.1 12.1 0 1 0 -24.2 0zM2174.8 431.2a12.1 12.1 0 1 0 24.2 0a12.1 12.1 0 1 0 -24.2 0zM2178.6 424.7a12.1 12.1 0 1 0 24.2 0a12.1 12.1 0 1 0 -24.2 0zM2182.2 418.3a12.1 12.1 0 1 0 24.2 0a12.1 12.1 0 1 0 -24.2 0zM2185.8 411.9a12.1 12.1 0 1 0 24.2 0a12.1 12.1 0 1 0 -24.2 0zM2189.3 405.5a12.1 12.1 0 1 0 24.2 0a12.1 12.1 0 1 0 -24.2 0zM2192.8 399.2a12.1 12.1 0 1 0 24.2 0a12.1 12.1 0 1 0 -24.2 0zM2196.3 392.8a12.1 12.1 0 1 0 24.2 0a12.1 12.1 0 1 0 -24.2 0zM2199.6 386.5a12.1 12.1 0 1 0 24.2 0a12.1 12.1 0 1 0 -24.2 0zM2202.8 380.1a12.1 12.1 0 1 0 24.2 0a12.1 12.1 0 1 0 -24.2 0zM2205.9 373.8a12.1 12.1 0 1 0 24.2 0a12.1 12.1 0 1 0 -24.2 0zM2208.9 367.4a12.1 12.1 0 1 0 24.2 0a12.1 12.1 0 1 0 -24.2 0zM2211.8 361.1a12.1 12.1 0 1 0 24.2 0a12.1 12.1 0 1 0 -24.2 0zM2214.6 354.7a12.1 12.1 0 1 0 24.2 0a12.1 12.1 0 1 0 -24.2 0zM2217.5 348.4a12.1 12.1 0 1 0 24.2 0a12.1 12.1 0 1 0 -24.2 0zM2220.3 342.1a12.1 12.1 0 1 0 24.2 0a12.1 12.1 0 1 0 -24.2 0zM2223.1 335.9a12.1 12.1 0 1 0 24.2 0a12.1 12.1 0 1 0 -24.2 0zM2225.9 329.6a12.1 12.1 0 1 0 24.2 0a12.1 12.1 0 1 0 -24.2 0zM2228.6 323.4a12.1 12.1 0 1 0 24.2 0a12.1 12.1 0 1 0 -24.2 0zM2231.2 317.1a12.1 12.1 0 1 0 24.2 0a12.1 12.1 0 1 0 -24.2 0zM2233.7 310.9a12.1 12.1 0 1 0 24.2 0a12.1 12.1 0 1 0 -24.2 0zM2236.2 304.6a12.1 12.1 0 1 0 24.2 0a12.1 12.1 0 1 0 -24.2 0zM2238.7 298.4a12.1 12.1 0 1 0 24.2 0a12.1 12.1 0 1 0 -24.2 0zM2241.2 292.1a12.1 12.1 0 1 0 24.2 0a12.1 12.1 0 1 0 -24.2 0zM2243.6 285.9a12.1 12.1 0 1 0 24.2 0a12.1 12.1 0 1 0 -24.2 0zM2246.0 279.6a12.1 12.1 0 1 0 24.2 0a12.1 12.1 0 1 0 -24.2 0zM2248.4 273.4a12.1 12.1 0 1 0 24.2 0a12.1 12.1 0 1 0 -24.2 0zM2250.7 267.1a12.1 12.1 0 1 0 24.2 0a12.1 12.1 0 1 0 -24.2 0zM2253.0 260.9a12.1 12.1 0 1 0 24.2 0a12.1 12.1 0 1 0 -24.2 0zM2255.2 254.6a12.1 12.1 0 1 0 24.2 0a12.1 12.1 0 1 0 -24.2 0zM2257.4 248.4a12.1 12.1 0 1 0 24.2 0a12.1 12.1 0 1 0 -24.2 0zM2259.6 242.1a12.1 12.1 0 1 0 24.2 0a12.1 12.1 0 1 0 -24.2 0zM2261.7 235.9a12.1 12.1 0 1 0 24.2 0a12.1 12.1 0 1 0 -24.2 0zM2263.8 229.6a12.1 12.1 0 1 0 24.2 0a12.1 12.1 0 1 0 -24.2 0zM2265.8 223.4a12.1 12.1 0 1 0 24.2 0a12.1 12.1 0 1 0 -24.2 0z" fill="#F14040"/>
<polyline points="2054.3,1481.8 2048.4,1475.5 2042.5,1469.3 2036.6,1463.0 2030.6,1456.8 2024.7,1450.5 2018.6,1444.1 2012.6,1437.7 2006.6,1431.2 2000.4,1424.8 1994.2,1418.4 1987.9,1412.0 1981.5,1405.5 1975.0,1399.1 1968.3,1392.6 1961.3,1386.2 1954.1,1380.2 1946.7,1374.1 1939.1,1367.4 1931.8,1360.8 1924.0,1354.1 1916.4,1348.2 1908.6,1342.3 1900.2,1335.3 1892.0,1328.4 1883.4,1321.4 1875.4,1315.6 1867.1,1309.8 1857.9,1303.1 1848.8,1296.5 1839.4,1289.8 1830.0,1283.6 1820.4,1277.4 1810.7,1271.1 1800.8,1264.8 1790.9,1258.6 1780.8,1252.3 1770.3,1245.9 1759.7,1239.6 1748.9,1233.2 1738.1,1226.8 1727.1,1220.4 1716.1,1214.1 1705.1,1207.7 1693.8,1201.2 1682.4,1194.7 1671.0,1188.2 1659.5,1181.7 1648.0,1175.2 1636.8,1168.8 1625.7,1162.5 1614.4,1156.2 1602.9,1149.8 1590.9,1143.3 1578.7,1136.9 1566.9,1130.8 1555.5,1124.8 1543.6,1117.8 1531.8,1111.4 1519.4,1105.1 1507.6,1098.7 1495.7,1091.7 1484.0,1085.5 1471.5,1079.2 1458.8,1073.0 1446.2,1066.7 1433.2,1060.2 1420.2,1053.6 1407.1,1047.0 1393.7,1040.5 1380.6,1034.3 1367.1,1028.0 1353.5,1021.8 1339.7,1015.6 1325.9,1009.4 1312.2,1003.1 1298.6,996.9 1284.9,990.6 1271.3,984.3 1258.0,978.0 1244.4,971.3 1231.2,964.7 1217.8,958.0 1204.7,951.6 1191.5,945.3 1178.2,938.9 1165.7,932.9 1152.0,926.5 1137.9,919.6 1124.0,913.5 1109.5,906.3 1092.7,901.0 1075.9,894.1 1057.3,888.3 1034.8,882.2 1011.0,874.4 979.3,868.5 938.0,861.8 875.0,855.9 736.4,849.5 733.8,843.6 882.0,836.8 952.7,829.0 996.2,822.6 1038.3,816.9 1065.7,811.1 1096.2,804.0 1117.5,797.2 1141.6,790.9 1159.9,784.1 1178.9,777.7 1195.7,771.0 1211.7,764.8 1227.5,758.6 1241.6,752.3 1255.5,745.5 1269.6,738.7 1282.5,732.4 1295.5,726.6 1308.6,720.4 1321.7,713.6 1335.1,707.6 1349.6,701.5 1364.7,695.5 1379.6,689.7 1395.1,683.8 1411.0,678.0 1432.8,670.4 1456.0,663.5 1482.4,657.3 1507.0,652.5 1537.8,644.2 1574.1,639.9 1618.5,632.4 1671.7,625.4 1727.4,618.4 1773.2,612.6 1822.4,605.3 1857.2,600.1 1886.7,592.3 1914.2,586.5 1935.4,579.8 1952.8,573.1 1969.3,566.4 1984.7,559.6 1998.3,553.6 2010.7,547.6 2021.4,541.5 2031.0,535.4 2040.3,529.1 2048.4,522.9 2054.8,516.1 2060.9,509.4 2067.9,503.4 2074.4,497.4 2078.7,491.5 2082.3,485.6 2085.6,479.7 2089.1,473.8 2093.1,467.8 2097.3,461.7 2101.5,455.7 2105.8,449.6 2110.0,443.6 2114.0,437.5 2117.9,431.5 2122.2,424.6 2126.4,417.8 2130.4,410.9 2134.2,404.1 2137.6,397.2 2139.9,391.7 2142.0,386.3 2144.1,380.8 2146.5,374.4 2148.7,368.1 2150.9,361.8 2153.1,355.4 2155.3,349.1 2157.6,342.7 2160.0,336.4 2162.5,330.0 2165.5,323.4 2168.7,316.9 2171.5,310.3 2173.7,304.0 2175.9,297.7 2178.0,291.4 2180.1,285.1 2182.1,278.7 2184.0,272.4 2185.9,266.1 2187.6,259.8 2189.3,253.5 2190.9,247.2 2192.3,240.9 2193.6,234.6 2194.7,228.2 2195.7,221.9 2196.5,215.6 2197.1,209.3" fill="none" stroke="#1A6FDF" stroke-width="2.9" stroke-linejoin="round"/>
<path d="M2054.3 1465.4L2068.5 1490.2L2040.1 1490.2zM2048.4 1459.1L2062.6 1483.9L2034.2 1483.9zM2042.5 1452.9L2056.7 1477.7L2028.3 1477.7zM2036.6 1446.6L2050.8 1471.4L2022.4 1471.4zM2030.6 1440.4L2044.8 1465.2L2016.4 1465.2zM2024.7 1434.1L2038.9 1458.9L2010.5 1458.9zM2018.6 1427.7L2032.8 1452.5L2004.4 1452.5zM2012.6 1421.3L2026.8 1446.1L1998.4 1446.1zM2006.6 1414.8L2020.8 1439.6L1992.4 1439.6zM2000.4 1408.4L2014.6 1433.2L1986.2 1433.2zM1994.2 1402.0L2008.4 1426.8L1980.0 1426.8zM1987.9 1395.6L2002.1 1420.4L1973.7 1420.4zM1981.5 1389.1L1995.7 1413.9L1967.3 1413.9zM1975.0 1382.7L1989.2 1407.5L1960.8 1407.5zM1968.3 1376.2L1982.5 1401.0L1954.1 1401.0zM1961.3 1369.8L1975.5 1394.6L1947.1 1394.6zM1954.1 1363.8L1968.3 1388.6L1939.9 1388.6zM1946.7 1357.7L1960.9 1382.5L1932.5 1382.5zM1939.1 1351.0L1953.3 1375.8L1924.9 1375.8zM1931.8 1344.4L1946.0 1369.2L1917.6 1369.2zM1924.0 1337.7L1938.2 1362.5L1909.8 1362.5zM1916.4 1331.8L1930.6 1356.6L1902.2 1356.6zM1908.6 1325.9L1922.8 1350.7L1894.4 1350.7zM1900.2 1318.9L1914.4 1343.7L1886.0 1343.7zM1892.0 1312.0L1906.2 1336.8L1877.8 1336.8zM1883.4 1305.0L1897.6 1329.8L1869.2 1329.8zM1875.4 1299.2L1889.6 1324.0L1861.2 1324.0zM1867.1 1293.4L1881.3 1318.2L1852.9 1318.2zM1857.9 1286.7L1872.1 1311.5L1843.7 1311.5zM1848.8 1280.1L1863.0 1304.9L1834.6 1304.9zM1839.4 1273.4L1853.6 1298.2L1825.2 1298.2zM1830.0 1267.2L1844.2 1292.0L1815.8 1292.0zM1820.4 1261.0L1834.6 1285.8L1806.2 1285.8zM1810.7 1254.7L1824.9 1279.5L1796.5 1279.5zM1800.8 1248.4L1815.0 1273.2L1786.6 1273.2zM1790.9 1242.2L1805.1 1267.0L1776.7 1267.0zM1780.8 1235.9L1795.0 1260.7L1766.6 1260.7zM1770.3 1229.5L1784.5 1254.3L1756.1 1254.3zM1759.7 1223.2L1773.9 1248.0L1745.5 1248.0zM1748.9 1216.8L1763.1 1241.6L1734.7 1241.6zM1738.1 1210.4L1752.3 1235.2L1723.9 1235.2zM1727.1 1204.0L1741.3 1228.8L1712.9 1228.8zM1716.1 1197.7L1730.3 1222.5L1701.9 1222.5zM1705.1 1191.3L1719.3 1216.1L1690.9 1216.1zM1693.8 1184.8L1708.0 1209.6L1679.6 1209.6zM1682.4 1178.3L1696.6 1203.1L1668.2 1203.1zM1671.0 1171.8L1685.2 1196.6L1656.8 1196.6zM1659.5 1165.3L1673.7 1190.1L1645.3 1190.1zM1648.0 1158.8L1662.2 1183.6L1633.8 1183.6zM1636.8 1152.4L1651.0 1177.2L1622.6 1177.2zM1625.7 1146.1L1639.9 1170.9L1611.5 1170.9zM1614.4 1139.8L1628.6 1164.6L1600.2 1164.6zM1602.9 1133.4L1617.1 1158.2L1588.7 1158.2zM1590.9 1126.9L1605.1 1151.8L1576.7 1151.8zM1578.7 1120.5L1592.9 1145.3L1564.5 1145.3zM1566.9 1114.4L1581.1 1139.2L1552.7 1139.2zM1555.5 1108.4L1569.7 1133.2L1541.3 1133.2zM1543.6 1101.4L1557.8 1126.2L1529.4 1126.2zM1531.8 1095.0L1546.0 1119.8L1517.6 1119.8zM1519.4 1088.7L1533.6 1113.5L1505.2 1113.5zM1507.6 1082.3L1521.8 1107.1L1493.4 1107.1zM1495.7 1075.3L1509.9 1100.1L1481.5 1100.1zM1484.0 1069.0L1498.2 1093.9L1469.8 1093.9zM1471.5 1062.8L1485.7 1087.6L1457.3 1087.6zM1458.8 1056.5L1473.0 1081.4L1444.6 1081.4zM1446.2 1050.3L1460.4 1075.1L1432.0 1075.1zM1433.2 1043.8L1447.4 1068.6L1419.0 1068.6zM1420.2 1037.2L1434.4 1062.0L1406.0 1062.0zM1407.1 1030.6L1421.3 1055.5L1392.9 1055.5zM1393.7 1024.1L1407.9 1048.9L1379.5 1048.9zM1380.6 1017.9L1394.8 1042.7L1366.4 1042.7zM1367.1 1011.6L1381.3 1036.4L1352.9 1036.4zM1353.5 1005.4L1367.7 1030.2L1339.3 1030.2zM1339.7 999.2L1353.9 1024.0L1325.5 1024.0zM1325.9 993.0L1340.1 1017.8L1311.7 1017.8zM1312.2 986.7L1326.4 1011.5L1298.0 1011.5zM1298.6 980.5L1312.8 1005.3L1284.4 1005.3zM1284.9 974.2L1299.1 999.0L1270.7 999.0zM1271.3 967.9L1285.5 992.7L1257.1 992.7zM1258.0 961.6L1272.2 986.4L1243.8 986.4zM1244.4 954.9L1258.6 979.7L1230.2 979.7zM1231.2 948.3L1245.4 973.1L1217.0 973.1zM1217.8 941.6L1232.0 966.4L1203.6 966.4zM1204.7 935.2L1218.9 960.0L1190.5 960.0zM1191.5 928.9L1205.7 953.7L1177.3 953.7zM1178.2 922.5L1192.4 947.3L1164.0 947.3zM1165.7 916.5L1179.9 941.3L1151.5 941.3zM1152.0 910.1L1166.2 934.9L1137.8 934.9zM1137.9 903.2L1152.1 928.0L1123.7 928.0zM1124.0 897.1L1138.2 921.9L1109.8 921.9zM1109.5 889.9L1123.7 914.7L1095.3 914.7zM1092.7 884.6L1106.9 909.4L1078.5 909.4zM1075.9 877.7L1090.1 902.5L1061.7 902.5zM1057.3 871.9L1071.5 896.7L1043.1 896.7zM1034.8 865.8L1049.0 890.6L1020.6 890.6zM1011.0 858.0L1025.2 882.8L996.8 882.8zM979.3 852.1L993.5 876.9L965.1 876.9zM938.0 845.4L952.2 870.2L923.8 870.2zM875.0 839.5L889.2 864.3L860.8 864.3zM736.4 833.1L750.6 857.9L722.2 857.9zM733.8 827.2L748.0 852.0L719.6 852.0zM882.0 820.4L896.2 845.2L867.8 845.2zM952.7 812.6L966.9 837.4L938.5 837.4zM996.2 806.2L1010.4 831.0L982.0 831.0zM1038.3 800.5L1052.5 825.3L1024.1 825.3zM1065.7 794.7L1079.9 819.5L1051.5 819.5zM1096.2 787.6L1110.4 812.4L1082.0 812.4zM1117.5 780.8L1131.7 805.6L1103.3 805.6zM1141.6 774.5L1155.8 799.3L1127.4 799.3zM1159.9 767.7L1174.1 792.5L1145.7 792.5zM1178.9 761.3L1193.1 786.1L1164.7 786.1zM1195.7 754.6L1209.9 779.4L1181.5 779.4zM1211.7 748.4L1225.9 773.2L1197.5 773.2zM1227.5 742.2L1241.7 767.0L1213.3 767.0zM1241.6 735.9L1255.8 760.7L1227.4 760.7zM1255.5 729.1L1269.7 753.9L1241.3 753.9zM1269.6 722.3L1283.8 747.1L1255.4 747.1zM1282.5 716.0L1296.7 740.8L1268.3 740.8zM1295.5 710.2L1309.7 735.0L1281.3 735.0zM1308.6 704.0L1322.8 728.8L1294.4 728.8zM1321.7 697.2L1335.9 722.0L1307.5 722.0zM1335.1 691.2L1349.3 716.0L1320.9 716.0zM1349.6 685.1L1363.8 709.9L1335.4 709.9zM1364.7 679.1L1378.9 703.9L1350.5 703.9zM1379.6 673.3L1393.8 698.1L1365.4 698.1zM1395.1 667.4L1409.3 692.2L1380.9 692.2zM1411.0 661.6L1425.2 686.4L1396.8 686.4zM1432.8 654.0L1447.0 678.8L1418.6 678.8zM1456.0 647.1L1470.2 671.9L1441.8 671.9zM1482.4 640.9L1496.6 665.7L1468.2 665.7zM1507.0 636.1L1521.2 660.9L1492.8 660.9zM1537.8 627.8L1552.0 652.6L1523.6 652.6zM1574.1 623.5L1588.3 648.3L1559.9 648.3zM1618.5 616.0L1632.7 640.8L1604.3 640.8zM1671.7 609.0L1685.9 633.8L1657.5 633.8zM1727.4 602.0L1741.6 626.8L1713.2 626.8zM1773.2 596.2L1787.4 621.0L1759.0 621.0zM1822.4 588.9L1836.6 613.7L1808.2 613.7zM1857.2 583.7L1871.4 608.5L1843.0 608.5zM1886.7 575.9L1900.9 600.7L1872.5 600.7zM1914.2 570.1L1928.4 594.9L1900.0 594.9zM1935.4 563.4L1949.6 588.2L1921.2 588.2zM1952.8 556.7L1967.0 581.5L1938.6 581.5zM1969.3 550.0L1983.5 574.8L1955.1 574.8zM1984.7 543.2L1998.9 568.0L1970.5 568.0zM1998.3 537.2L2012.5 562.0L1984.1 562.0zM2010.7 531.2L2024.9 556.0L1996.5 556.0zM2021.4 525.1L2035.6 549.9L2007.2 549.9zM2031.0 519.0L2045.2 543.8L2016.8 543.8zM2040.3 512.8L2054.5 537.5L2026.1 537.5zM2048.4 506.5L2062.6 531.3L2034.2 531.3zM2054.8 499.8L2069.0 524.5L2040.6 524.5zM2060.9 493.0L2075.1 517.8L2046.7 517.8zM2067.9 487.0L2082.1 511.8L2053.7 511.8zM2074.4 481.0L2088.6 505.8L2060.2 505.8zM2078.7 475.1L2092.9 499.9L2064.5 499.9zM2082.3 469.2L2096.5 494.0L2068.1 494.0zM2085.6 463.3L2099.8 488.1L2071.4 488.1zM2089.1 457.4L2103.3 482.2L2074.9 482.2zM2093.1 451.4L2107.3 476.2L2078.9 476.2zM2097.3 445.3L2111.5 470.1L2083.1 470.1zM2101.5 439.3L2115.7 464.1L2087.3 464.1zM2105.8 433.2L2120.0 458.0L2091.6 458.0zM2110.0 427.2L2124.2 452.0L2095.8 452.0zM2114.0 421.1L2128.2 445.9L2099.8 445.9zM2117.9 415.1L2132.1 439.9L2103.7 439.9zM2122.2 408.2L2136.4 433.0L2108.0 433.0zM2126.4 401.4L2140.6 426.2L2112.2 426.2zM2130.4 394.5L2144.6 419.3L2116.2 419.3zM2134.2 387.7L2148.4 412.5L2120.0 412.5zM2137.6 380.8L2151.8 405.6L2123.4 405.6zM2139.9 375.3L2154.1 400.1L2125.7 400.1zM2142.0 369.9L2156.2 394.7L2127.8 394.7zM2144.1 364.4L2158.3 389.2L2129.9 389.2zM2146.5 358.1L2160.7 382.8L2132.3 382.8zM2148.7 351.7L2162.9 376.5L2134.5 376.5zM2150.9 345.4L2165.1 370.1L2136.7 370.1zM2153.1 339.0L2167.3 363.8L2138.9 363.8zM2155.3 332.7L2169.5 357.4L2141.1 357.4zM2157.6 326.3L2171.8 351.1L2143.4 351.1zM2160.0 320.0L2174.2 344.8L2145.8 344.8zM2162.5 313.6L2176.7 338.4L2148.3 338.4zM2165.5 307.0L2179.7 331.8L2151.3 331.8zM2168.7 300.5L2182.9 325.3L2154.5 325.3zM2171.5 293.9L2185.7 318.7L2157.3 318.7zM2173.7 287.6L2187.9 312.4L2159.5 312.4zM2175.9 281.3L2190.1 306.1L2161.7 306.1zM2178.0 275.0L2192.2 299.8L2163.8 299.8zM2180.1 268.7L2194.3 293.4L2165.9 293.4zM2182.1 262.3L2196.3 287.1L2167.9 287.1zM2184.0 256.0L2198.2 280.8L2169.8 280.8zM2185.9 249.7L2200.1 274.5L2171.7 274.5zM2187.6 243.4L2201.8 268.2L2173.4 268.2zM2189.3 237.1L2203.5 261.9L2175.1 261.9zM2190.9 230.8L2205.1 255.6L2176.7 255.6zM2192.3 224.5L2206.5 249.3L2178.1 249.3zM2193.6 218.2L2207.8 243.0L2179.4 243.0zM2194.7 211.8L2208.9 236.6L2180.5 236.6zM2195.7 205.5L2209.9 230.3L2181.5 230.3zM2196.5 199.2L2210.7 224.0L2182.3 224.0zM2197.1 192.9L2211.3 217.7L2182.9 217.7z" fill="#1A6FDF"/>
<polyline points="1976.9,1483.0 1969.0,1476.7 1961.2,1470.3 1953.5,1464.0 1945.9,1457.6 1938.3,1451.3 1930.8,1444.9 1923.4,1438.5 1916.0,1432.0 1908.6,1425.6 1901.1,1419.2 1893.6,1412.9 1886.0,1406.5 1878.4,1400.2 1870.7,1393.8 1863.0,1387.5 1855.0,1381.0 1847.1,1374.5 1839.0,1367.9 1830.8,1361.4 1822.4,1354.9 1814.1,1348.8 1805.5,1342.7 1796.9,1336.5 1788.5,1330.4 1779.3,1323.2 1769.7,1316.0 1760.5,1310.0 1750.9,1304.1 1741.0,1297.7 1731.1,1291.4 1721.3,1285.0 1711.4,1278.6 1701.4,1272.3 1691.1,1265.9 1680.6,1259.4 1670.0,1253.0 1659.4,1246.5 1648.7,1240.0 1637.7,1233.6 1626.6,1227.1 1615.1,1220.6 1603.3,1214.2 1591.1,1207.7 1578.7,1201.7 1566.0,1195.1 1554.8,1188.8 1543.9,1182.6 1532.5,1176.2 1520.9,1169.7 1509.0,1163.5 1497.0,1157.2 1484.9,1150.7 1473.0,1144.1 1461.0,1137.6 1449.0,1131.1 1437.1,1124.6 1425.1,1118.1 1413.1,1111.6 1401.0,1105.1 1389.0,1098.7 1377.0,1092.3 1364.8,1085.8 1352.6,1079.4 1340.1,1073.0 1327.7,1066.8 1315.1,1060.6 1302.4,1054.4 1289.6,1048.2 1277.0,1042.0 1264.2,1035.7 1251.4,1029.3 1238.9,1023.0 1226.5,1016.5 1214.4,1010.0 1202.5,1003.5 1190.7,997.0 1178.8,990.5 1167.2,984.1 1155.6,977.8 1144.1,971.4 1132.6,965.1 1121.0,958.7 1109.5,952.3 1098.1,945.8 1086.7,939.4 1074.8,932.9 1062.1,926.5 1048.7,920.2 1034.5,913.9 1019.6,907.5 1004.2,901.2 985.0,893.8 965.2,887.4 942.0,881.5 912.8,874.9 871.9,868.3 808.2,862.4 666.1,855.8 675.1,849.3 818.1,842.7 885.0,836.3 937.1,830.6 966.6,823.6 997.5,817.7 1024.7,811.5 1048.5,805.4 1070.5,798.8 1090.0,792.2 1107.2,785.8 1122.8,779.3 1136.7,772.8 1149.8,766.4 1162.9,759.8 1175.9,753.2 1188.7,747.0 1201.0,740.7 1211.7,734.4 1222.2,728.1 1233.7,721.9 1245.4,715.6 1257.1,709.2 1268.5,702.7 1279.4,696.1 1290.7,689.5 1302.8,683.3 1315.6,677.1 1329.9,670.4 1345.2,663.8 1363.7,657.9 1384.9,651.1 1408.1,645.3 1443.8,639.5 1493.0,633.7 1552.9,643.4 1617.6,619.3 1679.3,613.5 1728.0,607.5 1773.0,601.0 1818.0,594.5 1856.0,588.0 1880.0,580.0 1899.7,573.2 1921.0,567.4 1941.2,561.6 1957.6,555.2 1971.6,548.7 1983.7,542.3 1994.8,535.9 2005.1,529.4 2014.7,523.0 2023.5,516.6 2031.5,510.1 2038.7,503.7 2044.8,497.7 2050.4,491.6 2055.5,485.6 2060.4,479.5 2065.0,473.5 2069.5,467.5 2073.9,461.4 2078.3,455.4 2082.9,449.1 2087.5,442.8 2092.0,436.5 2096.4,430.2 2100.7,423.9 2104.7,417.6 2108.5,411.3 2112.0,405.0 2115.3,398.8 2118.5,392.5 2121.6,386.2 2124.6,380.0 2127.5,373.8 2130.4,367.5 2133.1,361.2 2135.8,355.0 2138.3,348.8 2140.8,342.5 2143.1,336.2 2145.4,330.0 2147.6,323.8 2149.7,317.5 2151.8,311.1 2153.8,304.8 2155.8,298.4 2157.8,292.1 2159.7,285.7 2161.5,279.3 2163.4,273.0 2165.1,266.6 2166.8,260.3 2168.5,253.9 2170.0,247.6 2171.5,241.2 2173.0,234.8 2174.3,228.5 2175.6,222.1 2176.8,215.8 2177.9,209.4" fill="none" stroke="#37AD6B" stroke-width="2.9" stroke-linejoin="round"/>
<path d="M1962.7 1475.4L1991.1 1475.4L1976.9 1499.2zM1954.8 1469.1L1983.2 1469.1L1969.0 1492.9zM1947.0 1462.7L1975.4 1462.7L1961.2 1486.5zM1939.3 1456.4L1967.7 1456.4L1953.5 1480.2zM1931.7 1450.0L1960.1 1450.0L1945.9 1473.8zM1924.1 1443.7L1952.5 1443.7L1938.3 1467.5zM1916.6 1437.3L1945.0 1437.3L1930.8 1461.1zM1909.2 1430.9L1937.6 1430.9L1923.4 1454.7zM1901.8 1424.4L1930.2 1424.4L1916.0 1448.2zM1894.4 1418.0L1922.8 1418.0L1908.6 1441.8zM1886.9 1411.6L1915.3 1411.6L1901.1 1435.4zM1879.4 1405.3L1907.8 1405.3L1893.6 1429.1zM1871.8 1398.9L1900.2 1398.9L1886.0 1422.7zM1864.2 1392.6L1892.6 1392.6L1878.4 1416.4zM1856.5 1386.2L1884.9 1386.2L1870.7 1410.0zM1848.8 1379.9L1877.2 1379.9L1863.0 1403.7zM1840.8 1373.4L1869.2 1373.4L1855.0 1397.2zM1832.9 1366.9L1861.3 1366.9L1847.1 1390.7zM1824.8 1360.3L1853.2 1360.3L1839.0 1384.1zM1816.6 1353.8L1845.0 1353.8L1830.8 1377.6zM1808.2 1347.3L1836.6 1347.3L1822.4 1371.1zM1799.9 1341.2L1828.3 1341.2L1814.1 1365.0zM1791.3 1335.1L1819.7 1335.1L1805.5 1358.9zM1782.7 1328.9L1811.1 1328.9L1796.9 1352.7zM1774.3 1322.8L1802.7 1322.8L1788.5 1346.6zM1765.1 1315.6L1793.5 1315.6L1779.3 1339.4zM1755.5 1308.4L1783.9 1308.4L1769.7 1332.2zM1746.3 1302.5L1774.7 1302.5L1760.5 1326.2zM1736.7 1296.5L1765.1 1296.5L1750.9 1320.3zM1726.8 1290.1L1755.2 1290.1L1741.0 1313.9zM1716.9 1283.8L1745.3 1283.8L1731.1 1307.6zM1707.1 1277.4L1735.5 1277.4L1721.3 1301.2zM1697.2 1271.0L1725.6 1271.0L1711.4 1294.8zM1687.2 1264.7L1715.6 1264.7L1701.4 1288.5zM1676.9 1258.3L1705.3 1258.3L1691.1 1282.1zM1666.4 1251.8L1694.8 1251.8L1680.6 1275.6zM1655.8 1245.4L1684.2 1245.4L1670.0 1269.2zM1645.2 1238.9L1673.6 1238.9L1659.4 1262.7zM1634.5 1232.4L1662.9 1232.4L1648.7 1256.2zM1623.5 1226.0L1651.9 1226.0L1637.7 1249.8zM1612.4 1219.5L1640.8 1219.5L1626.6 1243.3zM1600.9 1213.0L1629.3 1213.0L1615.1 1236.8zM1589.1 1206.6L1617.5 1206.6L1603.3 1230.4zM1576.9 1200.1L1605.3 1200.1L1591.1 1223.9zM1564.5 1194.1L1592.9 1194.1L1578.7 1217.9zM1551.8 1187.5L1580.2 1187.5L1566.0 1211.3zM1540.6 1181.2L1569.0 1181.2L1554.8 1205.0zM1529.7 1175.0L1558.1 1175.0L1543.9 1198.8zM1518.3 1168.6L1546.7 1168.6L1532.5 1192.4zM1506.7 1162.1L1535.1 1162.1L1520.9 1185.9zM1494.8 1155.9L1523.2 1155.9L1509.0 1179.7zM1482.8 1149.6L1511.2 1149.6L1497.0 1173.4zM1470.7 1143.1L1499.1 1143.1L1484.9 1166.9zM1458.8 1136.5L1487.2 1136.5L1473.0 1160.3zM1446.8 1130.0L1475.2 1130.0L1461.0 1153.8zM1434.8 1123.5L1463.2 1123.5L1449.0 1147.3zM1422.9 1117.0L1451.3 1117.0L1437.1 1140.8zM1410.9 1110.5L1439.3 1110.5L1425.1 1134.3zM1398.9 1104.0L1427.3 1104.0L1413.1 1127.8zM1386.8 1097.5L1415.2 1097.5L1401.0 1121.3zM1374.8 1091.1L1403.2 1091.1L1389.0 1114.9zM1362.8 1084.7L1391.2 1084.7L1377.0 1108.5zM1350.6 1078.2L1379.0 1078.2L1364.8 1102.0zM1338.4 1071.8L1366.8 1071.8L1352.6 1095.6zM1325.9 1065.4L1354.3 1065.4L1340.1 1089.2zM1313.5 1059.2L1341.9 1059.2L1327.7 1083.0zM1300.9 1053.0L1329.3 1053.0L1315.1 1076.8zM1288.2 1046.8L1316.6 1046.8L1302.4 1070.6zM1275.4 1040.6L1303.8 1040.6L1289.6 1064.4zM1262.8 1034.4L1291.2 1034.4L1277.0 1058.2zM1250.0 1028.1L1278.4 1028.1L1264.2 1051.9zM1237.2 1021.7L1265.6 1021.7L1251.4 1045.5zM1224.7 1015.4L1253.1 1015.4L1238.9 1039.2zM1212.3 1008.9L1240.7 1008.9L1226.5 1032.7zM1200.2 1002.4L1228.6 1002.4L1214.4 1026.2zM1188.3 995.9L1216.7 995.9L1202.5 1019.7zM1176.5 989.4L1204.9 989.4L1190.7 1013.2zM1164.6 982.9L1193.0 982.9L1178.8 1006.7zM1153.0 976.5L1181.4 976.5L1167.2 1000.3zM1141.4 970.2L1169.8 970.2L1155.6 994.0zM1129.9 963.8L1158.3 963.8L1144.1 987.6zM1118.4 957.5L1146.8 957.5L1132.6 981.3zM1106.8 951.1L1135.2 951.1L1121.0 974.9zM1095.3 944.7L1123.7 944.7L1109.5 968.5zM1083.9 938.2L1112.3 938.2L1098.1 962.0zM1072.5 931.8L1100.9 931.8L1086.7 955.6zM1060.6 925.3L1089.0 925.3L1074.8 949.1zM1047.9 918.9L1076.3 918.9L1062.1 942.7zM1034.5 912.6L1062.9 912.6L1048.7 936.4zM1020.3 906.2L1048.7 906.2L1034.5 930.1zM1005.4 899.9L1033.8 899.9L1019.6 923.7zM990.0 893.6L1018.4 893.6L1004.2 917.4zM970.8 886.2L999.2 886.2L985.0 910.0zM951.0 879.8L979.4 879.8L965.2 903.6zM927.8 873.9L956.2 873.9L942.0 897.7zM898.6 867.3L927.0 867.3L912.8 891.1zM857.7 860.7L886.1 860.7L871.9 884.5zM794.0 854.8L822.4 854.8L808.2 878.6zM651.9 848.2L680.3 848.2L666.1 872.0zM660.9 841.7L689.3 841.7L675.1 865.5zM803.9 835.1L832.3 835.1L818.1 858.9zM870.8 828.7L899.2 828.7L885.0 852.5zM922.9 823.0L951.3 823.0L937.1 846.8zM952.4 816.0L980.8 816.0L966.6 839.8zM983.3 810.1L1011.7 810.1L997.5 833.9zM1010.5 803.9L1038.9 803.9L1024.7 827.8zM1034.3 797.8L1062.7 797.8L1048.5 821.6zM1056.3 791.2L1084.7 791.2L1070.5 815.0zM1075.8 784.6L1104.2 784.6L1090.0 808.4zM1093.0 778.1L1121.4 778.1L1107.2 802.0zM1108.6 771.7L1137.0 771.7L1122.8 795.5zM1122.5 765.2L1150.9 765.2L1136.7 789.0zM1135.6 758.8L1164.0 758.8L1149.8 782.6zM1148.7 752.2L1177.1 752.2L1162.9 776.0zM1161.7 745.6L1190.1 745.6L1175.9 769.4zM1174.5 739.4L1202.9 739.4L1188.7 763.2zM1186.8 733.1L1215.2 733.1L1201.0 756.9zM1197.5 726.8L1225.9 726.8L1211.7 750.6zM1208.0 720.5L1236.4 720.5L1222.2 744.3zM1219.5 714.2L1247.9 714.2L1233.7 738.1zM1231.2 708.0L1259.6 708.0L1245.4 731.8zM1242.9 701.6L1271.3 701.6L1257.1 725.4zM1254.3 695.1L1282.7 695.1L1268.5 718.9zM1265.2 688.5L1293.6 688.5L1279.4 712.3zM1276.5 681.9L1304.9 681.9L1290.7 705.7zM1288.6 675.7L1317.0 675.7L1302.8 699.5zM1301.4 669.5L1329.8 669.5L1315.6 693.3zM1315.7 662.8L1344.1 662.8L1329.9 686.6zM1331.0 656.2L1359.4 656.2L1345.2 680.0zM1349.5 650.3L1377.9 650.3L1363.7 674.1zM1370.7 643.5L1399.1 643.5L1384.9 667.3zM1393.9 637.7L1422.3 637.7L1408.1 661.5zM1429.6 631.9L1458.0 631.9L1443.8 655.7zM1478.8 626.1L1507.2 626.1L1493.0 649.9zM1538.7 635.8L1567.1 635.8L1552.9 659.6zM1603.4 611.7L1631.8 611.7L1617.6 635.5zM1665.1 605.9L1693.5 605.9L1679.3 629.7zM1713.8 599.9L1742.2 599.9L1728.0 623.7zM1758.8 593.4L1787.2 593.4L1773.0 617.2zM1803.8 586.9L1832.2 586.9L1818.0 610.7zM1841.8 580.4L1870.2 580.4L1856.0 604.2zM1865.8 572.4L1894.2 572.4L1880.0 596.2zM1885.5 565.6L1913.9 565.6L1899.7 589.4zM1906.8 559.8L1935.2 559.8L1921.0 583.6zM1927.0 554.0L1955.4 554.0L1941.2 577.8zM1943.4 547.6L1971.8 547.6L1957.6 571.4zM1957.4 541.1L1985.8 541.1L1971.6 564.9zM1969.5 534.7L1997.9 534.7L1983.7 558.5zM1980.6 528.3L2009.0 528.3L1994.8 552.1zM1990.9 521.8L2019.3 521.8L2005.1 545.6zM2000.5 515.4L2028.9 515.4L2014.7 539.2zM2009.3 509.0L2037.7 509.0L2023.5 532.8zM2017.3 502.5L2045.7 502.5L2031.5 526.3zM2024.5 496.1L2052.9 496.1L2038.7 519.9zM2030.6 490.1L2059.0 490.1L2044.8 513.9zM2036.2 484.0L2064.6 484.0L2050.4 507.8zM2041.3 478.0L2069.7 478.0L2055.5 501.8zM2046.2 471.9L2074.6 471.9L2060.4 495.7zM2050.8 465.9L2079.2 465.9L2065.0 489.7zM2055.3 459.9L2083.7 459.9L2069.5 483.7zM2059.7 453.8L2088.1 453.8L2073.9 477.6zM2064.1 447.8L2092.5 447.8L2078.3 471.6zM2068.7 441.5L2097.1 441.5L2082.9 465.3zM2073.3 435.2L2101.7 435.2L2087.5 459.0zM2077.8 428.9L2106.2 428.9L2092.0 452.7zM2082.2 422.6L2110.6 422.6L2096.4 446.4zM2086.5 416.3L2114.9 416.3L2100.7 440.1zM2090.5 410.0L2118.9 410.0L2104.7 433.8zM2094.3 403.7L2122.7 403.7L2108.5 427.5zM2097.8 397.4L2126.2 397.4L2112.0 421.2zM2101.1 391.1L2129.5 391.1L2115.3 414.9zM2104.3 384.9L2132.7 384.9L2118.5 408.7zM2107.4 378.6L2135.8 378.6L2121.6 402.4zM2110.4 372.4L2138.8 372.4L2124.6 396.2zM2113.3 366.1L2141.7 366.1L2127.5 389.9zM2116.2 359.9L2144.6 359.9L2130.4 383.7zM2118.9 353.6L2147.3 353.6L2133.1 377.4zM2121.6 347.4L2150.0 347.4L2135.8 371.2zM2124.1 341.1L2152.5 341.1L2138.3 364.9zM2126.6 334.9L2155.0 334.9L2140.8 358.7zM2128.9 328.6L2157.3 328.6L2143.1 352.4zM2131.2 322.4L2159.6 322.4L2145.4 346.2zM2133.4 316.1L2161.8 316.1L2147.6 339.9zM2135.5 309.9L2163.9 309.9L2149.7 333.7zM2137.6 303.5L2166.0 303.5L2151.8 327.3zM2139.6 297.2L2168.0 297.2L2153.8 321.0zM2141.6 290.8L2170.0 290.8L2155.8 314.6zM2143.6 284.5L2172.0 284.5L2157.8 308.3zM2145.5 278.1L2173.9 278.1L2159.7 301.9zM2147.3 271.7L2175.7 271.7L2161.5 295.5zM2149.2 265.4L2177.6 265.4L2163.4 289.2zM2150.9 259.0L2179.3 259.0L2165.1 282.8zM2152.6 252.7L2181.0 252.7L2166.8 276.5zM2154.3 246.3L2182.7 246.3L2168.5 270.1zM2155.8 240.0L2184.2 240.0L2170.0 263.8zM2157.3 233.6L2185.7 233.6L2171.5 257.4zM2158.8 227.2L2187.2 227.2L2173.0 251.0zM2160.1 220.9L2188.5 220.9L2174.3 244.7zM2161.4 214.5L2189.8 214.5L2175.6 238.3zM2162.6 208.2L2191.0 208.2L2176.8 232.0zM2163.7 201.8L2192.1 201.8L2177.9 225.6z" fill="#37AD6B"/>
<polyline points="1865.3,1487.2 1857.1,1481.5 1849.1,1475.7 1841.3,1470.0 1833.8,1464.2 1825.1,1457.2 1816.8,1450.2 1808.5,1443.3 1800.0,1436.3 1792.0,1429.9 1783.9,1423.5 1775.8,1417.1 1767.7,1410.7 1759.4,1404.3 1751.2,1397.9 1742.8,1391.5 1734.4,1385.1 1725.9,1378.7 1717.4,1372.3 1708.7,1365.9 1700.0,1359.5 1691.3,1353.2 1682.5,1346.9 1673.5,1340.6 1664.5,1334.3 1655.4,1328.0 1646.2,1321.6 1637.0,1315.3 1627.7,1309.0 1618.5,1302.7 1609.2,1296.4 1600.0,1290.1 1589.8,1283.2 1579.5,1276.2 1570.3,1269.9 1561.0,1263.5 1551.6,1257.2 1541.7,1250.8 1531.6,1244.4 1521.4,1237.9 1511.1,1231.5 1500.8,1225.1 1490.5,1218.7 1480.3,1212.2 1469.9,1205.8 1459.6,1199.3 1449.2,1192.9 1438.8,1186.5 1428.3,1180.1 1417.9,1173.6 1407.3,1167.2 1396.8,1160.8 1386.2,1154.4 1375.7,1147.9 1365.1,1141.5 1354.4,1135.0 1343.5,1128.6 1332.5,1122.2 1321.3,1115.9 1310.2,1109.5 1299.2,1103.2 1288.4,1096.8 1277.8,1090.3 1267.2,1083.9 1256.7,1077.4 1246.2,1071.0 1235.6,1064.6 1225.1,1058.2 1214.5,1051.7 1204.1,1045.3 1193.7,1038.9 1183.6,1032.6 1173.5,1026.2 1163.5,1019.9 1153.6,1013.5 1143.8,1007.2 1134.0,1000.8 1124.3,994.4 1114.8,987.9 1105.2,981.5 1095.6,975.1 1086.1,968.7 1076.7,962.2 1067.3,955.8 1057.6,949.3 1047.4,942.9 1037.0,936.6 1026.3,930.4 1014.9,924.1 1002.5,917.9 988.0,911.6 972.9,905.1 955.5,898.6 935.8,892.4 911.0,886.0 879.4,879.5 835.0,873.2 762.6,866.5 566.3,860.4 694.2,853.8 810.6,847.3 875.5,841.0 919.0,834.5 953.3,828.6 982.0,822.6 1006.4,815.7 1028.2,808.9 1043.6,802.7 1066.4,797.0 1079.0,790.8 1098.6,783.8 1109.8,776.7 1127.2,770.9 1137.3,764.9 1152.7,758.7 1164.3,752.0 1175.5,745.2 1189.4,738.8 1200.0,732.7 1211.6,726.9 1222.2,720.1 1233.4,713.9 1245.0,707.0 1256.0,700.8 1267.6,694.6 1279.2,688.3 1291.3,681.9 1306.0,675.3 1320.5,669.0 1336.9,662.8 1355.0,655.9 1376.8,649.4 1403.3,642.6 1438.6,636.6 1477.6,630.5 1551.0,624.7 1615.0,617.5 1676.0,610.3 1728.9,603.9 1773.2,597.2 1820.1,590.9 1857.7,585.2 1892.0,578.4 1921.2,572.2 1946.3,566.4 1967.8,560.3 1985.6,553.8 2001.8,547.3 2015.6,540.9 2027.6,534.6 2038.2,528.4 2048.2,522.0 2057.8,515.6 2067.0,509.3 2075.3,502.9 2082.6,496.5 2088.0,490.9 2092.7,485.3 2097.2,479.7 2102.1,473.4 2106.8,467.1 2111.3,460.9 2115.7,454.6 2120.0,448.3 2124.7,441.2 2129.2,434.1 2133.6,427.1 2138.0,420.0 2142.2,413.3 2146.3,406.7 2150.0,400.0 2153.2,393.6 2156.3,387.2 2159.3,380.8 2162.1,374.4 2164.9,368.0 2167.7,361.6 2170.3,355.2 2172.8,348.7 2175.3,342.3 2177.7,335.9 2180.0,329.5 2182.2,323.1 2184.4,316.7 2186.5,310.3 2188.6,303.9 2190.6,297.5 2192.6,291.1 2194.5,284.7 2196.4,278.3 2198.2,271.9 2200.0,265.5 2201.8,259.1 2203.5,252.7 2205.1,246.3 2206.7,239.9 2208.2,233.5 2209.6,227.1 2211.0,220.7 2212.3,214.3" fill="none" stroke="#B177DE" stroke-width="2.9" stroke-linejoin="round"/>
<path d="M1865.3 1472.4L1879.9 1487.2L1865.3 1502.0L1850.7 1487.2zM1857.1 1466.7L1871.7 1481.5L1857.1 1496.2L1842.5 1481.5zM1849.1 1460.9L1863.7 1475.7L1849.1 1490.5L1834.5 1475.7zM1841.3 1455.2L1855.9 1470.0L1841.3 1484.8L1826.7 1470.0zM1833.8 1449.4L1848.4 1464.2L1833.8 1479.0L1819.2 1464.2zM1825.1 1442.4L1839.7 1457.2L1825.1 1472.0L1810.5 1457.2zM1816.8 1435.5L1831.4 1450.2L1816.8 1465.0L1802.2 1450.2zM1808.5 1428.5L1823.1 1443.3L1808.5 1458.1L1793.9 1443.3zM1800.0 1421.5L1814.6 1436.3L1800.0 1451.1L1785.4 1436.3zM1792.0 1415.1L1806.6 1429.9L1792.0 1444.7L1777.4 1429.9zM1783.9 1408.7L1798.5 1423.5L1783.9 1438.3L1769.3 1423.5zM1775.8 1402.3L1790.4 1417.1L1775.8 1431.9L1761.2 1417.1zM1767.7 1395.9L1782.3 1410.7L1767.7 1425.5L1753.1 1410.7zM1759.4 1389.5L1774.0 1404.3L1759.4 1419.1L1744.8 1404.3zM1751.2 1383.1L1765.8 1397.9L1751.2 1412.7L1736.6 1397.9zM1742.8 1376.7L1757.4 1391.5L1742.8 1406.3L1728.2 1391.5zM1734.4 1370.3L1749.0 1385.1L1734.4 1399.9L1719.8 1385.1zM1725.9 1363.9L1740.5 1378.7L1725.9 1393.5L1711.3 1378.7zM1717.4 1357.5L1732.0 1372.3L1717.4 1387.1L1702.8 1372.3zM1708.7 1351.1L1723.3 1365.9L1708.7 1380.7L1694.1 1365.9zM1700.0 1344.7L1714.6 1359.5L1700.0 1374.3L1685.4 1359.5zM1691.3 1338.4L1705.9 1353.2L1691.3 1368.0L1676.7 1353.2zM1682.5 1332.1L1697.1 1346.9L1682.5 1361.7L1667.9 1346.9zM1673.5 1325.8L1688.1 1340.6L1673.5 1355.4L1658.9 1340.6zM1664.5 1319.5L1679.1 1334.3L1664.5 1349.1L1649.9 1334.3zM1655.4 1313.2L1670.0 1328.0L1655.4 1342.8L1640.8 1328.0zM1646.2 1306.8L1660.8 1321.6L1646.2 1336.4L1631.6 1321.6zM1637.0 1300.5L1651.6 1315.3L1637.0 1330.1L1622.4 1315.3zM1627.7 1294.2L1642.3 1309.0L1627.7 1323.8L1613.1 1309.0zM1618.5 1287.9L1633.1 1302.7L1618.5 1317.5L1603.9 1302.7zM1609.2 1281.6L1623.8 1296.4L1609.2 1311.2L1594.6 1296.4zM1600.0 1275.3L1614.6 1290.1L1600.0 1304.9L1585.4 1290.1zM1589.8 1268.4L1604.4 1283.2L1589.8 1298.0L1575.2 1283.2zM1579.5 1261.4L1594.1 1276.2L1579.5 1291.0L1564.9 1276.2zM1570.3 1255.1L1584.9 1269.9L1570.3 1284.7L1555.7 1269.9zM1561.0 1248.7L1575.6 1263.5L1561.0 1278.3L1546.4 1263.5zM1551.6 1242.4L1566.2 1257.2L1551.6 1272.0L1537.0 1257.2zM1541.7 1236.0L1556.3 1250.8L1541.7 1265.6L1527.1 1250.8zM1531.6 1229.6L1546.2 1244.4L1531.6 1259.2L1517.0 1244.4zM1521.4 1223.1L1536.0 1237.9L1521.4 1252.7L1506.8 1237.9zM1511.1 1216.7L1525.7 1231.5L1511.1 1246.3L1496.5 1231.5zM1500.8 1210.3L1515.4 1225.1L1500.8 1239.9L1486.2 1225.1zM1490.5 1203.9L1505.1 1218.7L1490.5 1233.5L1475.9 1218.7zM1480.3 1197.4L1494.9 1212.2L1480.3 1227.0L1465.7 1212.2zM1469.9 1191.0L1484.5 1205.8L1469.9 1220.6L1455.3 1205.8zM1459.6 1184.5L1474.2 1199.3L1459.6 1214.1L1445.0 1199.3zM1449.2 1178.1L1463.8 1192.9L1449.2 1207.7L1434.6 1192.9zM1438.8 1171.7L1453.4 1186.5L1438.8 1201.3L1424.2 1186.5zM1428.3 1165.3L1442.9 1180.1L1428.3 1194.9L1413.7 1180.1zM1417.9 1158.8L1432.5 1173.6L1417.9 1188.4L1403.3 1173.6zM1407.3 1152.4L1421.9 1167.2L1407.3 1182.0L1392.7 1167.2zM1396.8 1146.0L1411.4 1160.8L1396.8 1175.6L1382.2 1160.8zM1386.2 1139.6L1400.8 1154.4L1386.2 1169.2L1371.6 1154.4zM1375.7 1133.1L1390.3 1147.9L1375.7 1162.7L1361.1 1147.9zM1365.1 1126.7L1379.7 1141.5L1365.1 1156.3L1350.5 1141.5zM1354.4 1120.2L1369.0 1135.0L1354.4 1149.8L1339.8 1135.0zM1343.5 1113.8L1358.1 1128.6L1343.5 1143.4L1328.9 1128.6zM1332.5 1107.5L1347.1 1122.2L1332.5 1137.0L1317.9 1122.2zM1321.3 1101.1L1335.9 1115.9L1321.3 1130.7L1306.7 1115.9zM1310.2 1094.8L1324.8 1109.5L1310.2 1124.3L1295.6 1109.5zM1299.2 1088.4L1313.8 1103.2L1299.2 1118.0L1284.6 1103.2zM1288.4 1082.0L1303.0 1096.8L1288.4 1111.6L1273.8 1096.8zM1277.8 1075.5L1292.4 1090.3L1277.8 1105.1L1263.2 1090.3zM1267.2 1069.1L1281.8 1083.9L1267.2 1098.7L1252.6 1083.9zM1256.7 1062.6L1271.3 1077.4L1256.7 1092.2L1242.1 1077.4zM1246.2 1056.2L1260.8 1071.0L1246.2 1085.8L1231.6 1071.0zM1235.6 1049.8L1250.2 1064.6L1235.6 1079.4L1221.0 1064.6zM1225.1 1043.4L1239.7 1058.2L1225.1 1073.0L1210.5 1058.2zM1214.5 1036.9L1229.1 1051.7L1214.5 1066.5L1199.9 1051.7zM1204.1 1030.5L1218.7 1045.3L1204.1 1060.1L1189.5 1045.3zM1193.7 1024.1L1208.3 1038.9L1193.7 1053.7L1179.1 1038.9zM1183.6 1017.8L1198.2 1032.6L1183.6 1047.4L1169.0 1032.6zM1173.5 1011.4L1188.1 1026.2L1173.5 1041.0L1158.9 1026.2zM1163.5 1005.1L1178.1 1019.9L1163.5 1034.7L1148.9 1019.9zM1153.6 998.7L1168.2 1013.5L1153.6 1028.3L1139.0 1013.5zM1143.8 992.4L1158.4 1007.2L1143.8 1022.0L1129.2 1007.2zM1134.0 986.0L1148.6 1000.8L1134.0 1015.6L1119.4 1000.8zM1124.3 979.6L1138.9 994.4L1124.3 1009.2L1109.7 994.4zM1114.8 973.1L1129.4 987.9L1114.8 1002.7L1100.2 987.9zM1105.2 966.7L1119.8 981.5L1105.2 996.3L1090.6 981.5zM1095.6 960.3L1110.2 975.1L1095.6 989.9L1081.0 975.1zM1086.1 953.9L1100.7 968.7L1086.1 983.5L1071.5 968.7zM1076.7 947.4L1091.3 962.2L1076.7 977.0L1062.1 962.2zM1067.3 941.0L1081.9 955.8L1067.3 970.6L1052.7 955.8zM1057.6 934.5L1072.2 949.3L1057.6 964.1L1043.0 949.3zM1047.4 928.1L1062.0 942.9L1047.4 957.7L1032.8 942.9zM1037.0 921.9L1051.6 936.6L1037.0 951.4L1022.4 936.6zM1026.3 915.6L1040.9 930.4L1026.3 945.2L1011.7 930.4zM1014.9 909.4L1029.5 924.1L1014.9 938.9L1000.3 924.1zM1002.5 903.1L1017.1 917.9L1002.5 932.7L987.9 917.9zM988.0 896.8L1002.6 911.6L988.0 926.4L973.4 911.6zM972.9 890.3L987.5 905.1L972.9 919.9L958.3 905.1zM955.5 883.8L970.1 898.6L955.5 913.4L940.9 898.6zM935.8 877.6L950.4 892.4L935.8 907.2L921.2 892.4zM911.0 871.2L925.6 886.0L911.0 900.8L896.4 886.0zM879.4 864.7L894.0 879.5L879.4 894.3L864.8 879.5zM835.0 858.4L849.6 873.2L835.0 888.0L820.4 873.2zM762.6 851.7L777.2 866.5L762.6 881.3L748.0 866.5zM566.3 845.6L580.9 860.4L566.3 875.2L551.7 860.4zM694.2 839.0L708.8 853.8L694.2 868.6L679.6 853.8zM810.6 832.5L825.2 847.3L810.6 862.1L796.0 847.3zM875.5 826.2L890.1 841.0L875.5 855.8L860.9 841.0zM919.0 819.7L933.6 834.5L919.0 849.3L904.4 834.5zM953.3 813.8L967.9 828.6L953.3 843.4L938.7 828.6zM982.0 807.8L996.6 822.6L982.0 837.4L967.4 822.6zM1006.4 800.9L1021.0 815.7L1006.4 830.5L991.8 815.7zM1028.2 794.1L1042.8 808.9L1028.2 823.7L1013.6 808.9zM1043.6 787.9L1058.2 802.7L1043.6 817.5L1029.0 802.7zM1066.4 782.2L1081.0 797.0L1066.4 811.8L1051.8 797.0zM1079.0 776.0L1093.6 790.8L1079.0 805.6L1064.4 790.8zM1098.6 769.0L1113.2 783.8L1098.6 798.6L1084.0 783.8zM1109.8 761.9L1124.4 776.7L1109.8 791.5L1095.2 776.7zM1127.2 756.1L1141.8 770.9L1127.2 785.7L1112.6 770.9zM1137.3 750.1L1151.9 764.9L1137.3 779.7L1122.7 764.9zM1152.7 743.9L1167.3 758.7L1152.7 773.5L1138.1 758.7zM1164.3 737.2L1178.9 752.0L1164.3 766.8L1149.7 752.0zM1175.5 730.4L1190.1 745.2L1175.5 760.0L1160.9 745.2zM1189.4 724.0L1204.0 738.8L1189.4 753.6L1174.8 738.8zM1200.0 717.9L1214.6 732.7L1200.0 747.5L1185.4 732.7zM1211.6 712.1L1226.2 726.9L1211.6 741.7L1197.0 726.9zM1222.2 705.3L1236.8 720.1L1222.2 734.9L1207.6 720.1zM1233.4 699.1L1248.0 713.9L1233.4 728.7L1218.8 713.9zM1245.0 692.2L1259.6 707.0L1245.0 721.8L1230.4 707.0zM1256.0 686.0L1270.6 700.8L1256.0 715.6L1241.4 700.8zM1267.6 679.8L1282.2 694.6L1267.6 709.4L1253.0 694.6zM1279.2 673.5L1293.8 688.3L1279.2 703.1L1264.6 688.3zM1291.3 667.1L1305.9 681.9L1291.3 696.7L1276.7 681.9zM1306.0 660.5L1320.6 675.3L1306.0 690.1L1291.4 675.3zM1320.5 654.2L1335.1 669.0L1320.5 683.8L1305.9 669.0zM1336.9 648.0L1351.5 662.8L1336.9 677.6L1322.3 662.8zM1355.0 641.1L1369.6 655.9L1355.0 670.7L1340.4 655.9zM1376.8 634.6L1391.4 649.4L1376.8 664.2L1362.2 649.4zM1403.3 627.8L1417.9 642.6L1403.3 657.4L1388.7 642.6zM1438.6 621.8L1453.2 636.6L1438.6 651.4L1424.0 636.6zM1477.6 615.7L1492.2 630.5L1477.6 645.3L1463.0 630.5zM1551.0 609.9L1565.6 624.7L1551.0 639.5L1536.4 624.7zM1615.0 602.7L1629.6 617.5L1615.0 632.3L1600.4 617.5zM1676.0 595.5L1690.6 610.3L1676.0 625.1L1661.4 610.3zM1728.9 589.1L1743.5 603.9L1728.9 618.7L1714.3 603.9zM1773.2 582.4L1787.8 597.2L1773.2 612.0L1758.6 597.2zM1820.1 576.1L1834.7 590.9L1820.1 605.7L1805.5 590.9zM1857.7 570.4L1872.3 585.2L1857.7 600.0L1843.1 585.2zM1892.0 563.6L1906.6 578.4L1892.0 593.2L1877.4 578.4zM1921.2 557.4L1935.8 572.2L1921.2 587.0L1906.6 572.2zM1946.3 551.6L1960.9 566.4L1946.3 581.2L1931.7 566.4zM1967.8 545.5L1982.4 560.3L1967.8 575.1L1953.2 560.3zM1985.6 539.0L2000.2 553.8L1985.6 568.6L1971.0 553.8zM2001.8 532.5L2016.4 547.3L2001.8 562.1L1987.2 547.3zM2015.6 526.1L2030.2 540.9L2015.6 555.7L2001.0 540.9zM2027.6 519.8L2042.2 534.6L2027.6 549.4L2013.0 534.6zM2038.2 513.6L2052.8 528.4L2038.2 543.2L2023.6 528.4zM2048.2 507.2L2062.8 522.0L2048.2 536.8L2033.6 522.0zM2057.8 500.8L2072.4 515.6L2057.8 530.4L2043.2 515.6zM2067.0 494.5L2081.6 509.3L2067.0 524.1L2052.4 509.3zM2075.3 488.1L2089.9 502.9L2075.3 517.7L2060.7 502.9zM2082.6 481.7L2097.2 496.5L2082.6 511.3L2068.0 496.5zM2088.0 476.1L2102.6 490.9L2088.0 505.7L2073.4 490.9zM2092.7 470.5L2107.3 485.3L2092.7 500.1L2078.1 485.3zM2097.2 464.9L2111.8 479.7L2097.2 494.5L2082.6 479.7zM2102.1 458.6L2116.7 473.4L2102.1 488.2L2087.5 473.4zM2106.8 452.3L2121.4 467.1L2106.8 481.9L2092.2 467.1zM2111.3 446.1L2125.9 460.9L2111.3 475.7L2096.7 460.9zM2115.7 439.8L2130.3 454.6L2115.7 469.4L2101.1 454.6zM2120.0 433.5L2134.6 448.3L2120.0 463.1L2105.4 448.3zM2124.7 426.4L2139.3 441.2L2124.7 456.0L2110.1 441.2zM2129.2 419.3L2143.8 434.1L2129.2 448.9L2114.6 434.1zM2133.6 412.3L2148.2 427.1L2133.6 441.9L2119.0 427.1zM2138.0 405.2L2152.6 420.0L2138.0 434.8L2123.4 420.0zM2142.2 398.5L2156.8 413.3L2142.2 428.1L2127.6 413.3zM2146.3 391.9L2160.9 406.7L2146.3 421.5L2131.7 406.7zM2150.0 385.2L2164.6 400.0L2150.0 414.8L2135.4 400.0zM2153.2 378.8L2167.8 393.6L2153.2 408.4L2138.6 393.6zM2156.3 372.4L2170.9 387.2L2156.3 402.0L2141.7 387.2zM2159.3 366.0L2173.9 380.8L2159.3 395.6L2144.7 380.8zM2162.1 359.6L2176.7 374.4L2162.1 389.2L2147.5 374.4zM2164.9 353.2L2179.5 368.0L2164.9 382.8L2150.3 368.0zM2167.7 346.8L2182.3 361.6L2167.7 376.4L2153.1 361.6zM2170.3 340.4L2184.9 355.2L2170.3 370.0L2155.7 355.2zM2172.8 333.9L2187.4 348.7L2172.8 363.5L2158.2 348.7zM2175.3 327.5L2189.9 342.3L2175.3 357.1L2160.7 342.3zM2177.7 321.1L2192.3 335.9L2177.7 350.7L2163.1 335.9zM2180.0 314.7L2194.6 329.5L2180.0 344.3L2165.4 329.5zM2182.2 308.3L2196.8 323.1L2182.2 337.9L2167.6 323.1zM2184.4 301.9L2199.0 316.7L2184.4 331.5L2169.8 316.7zM2186.5 295.5L2201.1 310.3L2186.5 325.1L2171.9 310.3zM2188.6 289.1L2203.2 303.9L2188.6 318.7L2174.0 303.9zM2190.6 282.7L2205.2 297.5L2190.6 312.3L2176.0 297.5zM2192.6 276.3L2207.2 291.1L2192.6 305.9L2178.0 291.1zM2194.5 269.9L2209.1 284.7L2194.5 299.5L2179.9 284.7zM2196.4 263.5L2211.0 278.3L2196.4 293.1L2181.8 278.3zM2198.2 257.1L2212.8 271.9L2198.2 286.7L2183.6 271.9zM2200.0 250.7L2214.6 265.5L2200.0 280.3L2185.4 265.5zM2201.8 244.3L2216.4 259.1L2201.8 273.9L2187.2 259.1zM2203.5 237.9L2218.1 252.7L2203.5 267.5L2188.9 252.7zM2205.1 231.5L2219.7 246.3L2205.1 261.1L2190.5 246.3zM2206.7 225.1L2221.3 239.9L2206.7 254.7L2192.1 239.9zM2208.2 218.7L2222.8 233.5L2208.2 248.3L2193.6 233.5zM2209.6 212.3L2224.2 227.1L2209.6 241.9L2195.0 227.1zM2211.0 205.9L2225.6 220.7L2211.0 235.5L2196.4 220.7zM2212.3 199.5L2226.9 214.3L2212.3 229.1L2197.7 214.3z" fill="#B177DE"/>
</g>
<g fill="#000" shape-rendering="crispEdges">
<rect x="318" y="59" width="7" height="1702.0"/>
<rect x="305" y="1724.0" width="2088.0" height="7.6"/>
<rect x="289.0" y="59" width="31.0" height="7"/>
<rect x="305.0" y="187" width="15.0" height="7"/>
<rect x="289.0" y="315" width="31.0" height="7"/>
<rect x="305.0" y="443" width="15.0" height="7"/>
<rect x="289.0" y="572" width="31.0" height="7"/>
<rect x="305.0" y="700" width="15.0" height="7"/>
<rect x="289.0" y="828" width="31.0" height="7"/>
<rect x="305.0" y="956" width="15.0" height="7"/>
<rect x="289.0" y="1084" width="31.0" height="7"/>
<rect x="305.0" y="1212" width="15.0" height="7"/>
<rect x="289.0" y="1340" width="31.0" height="7"/>
<rect x="305.0" y="1468" width="15.0" height="7"/>
<rect x="289.0" y="1596" width="31.0" height="7"/>
<rect x="318" y="1724.0" width="7" height="37.0"/>
<rect x="407" y="1724.0" width="7" height="21.0"/>
<rect x="459" y="1724.0" width="7" height="21.0"/>
<rect x="496" y="1724.0" width="7" height="21.0"/>
<rect x="524" y="1724.0" width="7" height="21.0"/>
<rect x="548" y="1724.0" width="7" height="21.0"/>
<rect x="568" y="1724.0" width="7" height="21.0"/>
<rect x="585" y="1724.0" width="7" height="21.0"/>
<rect x="600" y="1724.0" width="7" height="21.0"/>
<rect x="613" y="1724.0" width="7" height="37.0"/>
<rect x="702" y="1724.0" width="7" height="21.0"/>
<rect x="754" y="1724.0" width="7" height="21.0"/>
<rect x="791" y="1724.0" width="7" height="21.0"/>
<rect x="820" y="1724.0" width="7" height="21.0"/>
<rect x="843" y="1724.0" width="7" height="21.0"/>
<rect x="863" y="1724.0" width="7" height="21.0"/>
<rect x="880" y="1724.0" width="7" height="21.0"/>
<rect x="895" y="1724.0" width="7" height="21.0"/>
<rect x="909" y="1724.0" width="7" height="37.0"/>
<rect x="998" y="1724.0" width="7" height="21.0"/>
<rect x="1050" y="1724.0" width="7" height="21.0"/>
<rect x="1087" y="1724.0" width="7" height="21.0"/>
<rect x="1115" y="1724.0" width="7" height="21.0"/>
<rect x="1139" y="1724.0" width="7" height="21.0"/>
<rect x="1159" y="1724.0" width="7" height="21.0"/>
<rect x="1176" y="1724.0" width="7" height="21.0"/>
<rect x="1191" y="1724.0" width="7" height="21.0"/>
<rect x="1204" y="1724.0" width="7" height="37.0"/>
<rect x="1293" y="1724.0" width="7" height="21.0"/>
<rect x="1345" y="1724.0" width="7" height="21.0"/>
<rect x="1382" y="1724.0" width="7" height="21.0"/>
<rect x="1411" y="1724.0" width="7" height="21.0"/>
<rect x="1434" y="1724.0" width="7" height="21.0"/>
<rect x="1454" y="1724.0" width="7" height="21.0"/>
<rect x="1471" y="1724.0" width="7" height="21.0"/>
<rect x="1486" y="1724.0" width="7" height="21.0"/>
<rect x="1500" y="1724.0" width="7" height="37.0"/>
<rect x="1589" y="1724.0" width="7" height="21.0"/>
<rect x="1641" y="1724.0" width="7" height="21.0"/>
<rect x="1678" y="1724.0" width="7" height="21.0"/>
<rect x="1706" y="1724.0" width="7" height="21.0"/>
<rect x="1730" y="1724.0" width="7" height="21.0"/>
<rect x="1749" y="1724.0" width="7" height="21.0"/>
<rect x="1767" y="1724.0" width="7" height="21.0"/>
<rect x="1782" y="1724.0" width="7" height="21.0"/>
<rect x="1795" y="1724.0" width="7" height="37.0"/>
<rect x="1884" y="1724.0" width="7" height="21.0"/>
<rect x="1936" y="1724.0" width="7" height="21.0"/>
<rect x="1973" y="1724.0" width="7" height="21.0"/>
<rect x="2002" y="1724.0" width="7" height="21.0"/>
<rect x="2025" y="1724.0" width="7" height="21.0"/>
<rect x="2045" y="1724.0" width="7" height="21.0"/>
<rect x="2062" y="1724.0" width="7" height="21.0"/>
<rect x="2077" y="1724.0" width="7" height="21.0"/>
<rect x="2091" y="1724.0" width="7" height="37.0"/>
<rect x="2180" y="1724.0" width="7" height="21.0"/>
<rect x="2232" y="1724.0" width="7" height="21.0"/>
<rect x="2268" y="1724.0" width="7" height="21.0"/>
<rect x="2297" y="1724.0" width="7" height="21.0"/>
<rect x="2320" y="1724.0" width="7" height="21.0"/>
<rect x="2340" y="1724.0" width="7" height="21.0"/>
<rect x="2357" y="1724.0" width="7" height="21.0"/>
<rect x="2372" y="1724.0" width="7" height="21.0"/>
<rect x="2386" y="1724.0" width="7" height="37.0"/>
</g>
<text transform="translate(267.5,84.1) scale(1,1.035)" font-size="70.5" text-anchor="end">0.2</text>
<text transform="translate(267.5,340.2) scale(1,1.035)" font-size="70.5" text-anchor="end">0.0</text>
<text transform="translate(267.5,596.3) scale(1,1.035)" font-size="70.5" text-anchor="end">-0.2</text>
<text transform="translate(267.5,852.4) scale(1,1.035)" font-size="70.5" text-anchor="end">-0.4</text>
<text transform="translate(267.5,1108.5) scale(1,1.035)" font-size="70.5" text-anchor="end">-0.6</text>
<text transform="translate(267.5,1364.6) scale(1,1.035)" font-size="70.5" text-anchor="end">-0.8</text>
<text transform="translate(267.5,1620.7) scale(1,1.035)" font-size="70.5" text-anchor="end">-1.0</text>
<text transform="translate(213.0,1876.0) scale(1,1.05)" font-size="77.5">1x10<tspan font-size="62.5" dx="2" dy="-32">-7</tspan></text>
<text transform="translate(507.5,1874.2) scale(1,1.05)" font-size="77.5">1x10<tspan font-size="62.5" dx="2" dy="-32">-6</tspan></text>
<text transform="translate(815.0,1881.5) scale(1,1.05)" font-size="77.5">1x10<tspan font-size="62.5" dx="2" dy="-32">-5</tspan></text>
<text transform="translate(1100.0,1877.0) scale(1,1.05)" font-size="77.5">1x10<tspan font-size="62.5" dx="2" dy="-32">-4</tspan></text>
<text transform="translate(1403.5,1882.3) scale(1,1.05)" font-size="77.5">0.001</text>
<text transform="translate(1700.0,1878.5) scale(1,1.05)" font-size="77.5">0.01</text>
<text transform="translate(2018.0,1867.5) scale(1,1.05)" font-size="77.5">0.1</text>
<text transform="translate(2356.0,1854.5) scale(1,1.05)" font-size="77.5">1</text>
<text transform="translate(108.6,894) rotate(-90) scale(1,1.05)" font-size="87.3" text-anchor="middle">E,V (vs SCE)</text>
<text transform="translate(1208,2040.5) scale(1,1.05)" font-size="87.3">i,A cm<tspan font-size="58.5" dx="0" dy="-34.5">-2</tspan></text>
<rect x="388" y="65" width="851" height="561.3" fill="#fff" stroke="#000" stroke-width="4.6" shape-rendering="crispEdges"/>
<line x1="397" y1="121.4" x2="575.5" y2="121.4" stroke="#515151" stroke-width="2.9"/>
<path d="M475.9 110.9h21.0v21.0h-21.0z" fill="#515151"/>
<line x1="397" y1="247.3" x2="575.5" y2="247.3" stroke="#F14040" stroke-width="2.9"/>
<path d="M474.3 247.3a12.1 12.1 0 1 0 24.2 0a12.1 12.1 0 1 0 -24.2 0z" fill="#F14040"/>
<line x1="397" y1="356.3" x2="575.5" y2="356.3" stroke="#1A6FDF" stroke-width="2.9"/>
<path d="M486.4 339.9L500.6 364.7L472.2 364.7z" fill="#1A6FDF"/>
<line x1="397" y1="465.0" x2="575.5" y2="465.0" stroke="#37AD6B" stroke-width="2.9"/>
<path d="M472.2 457.4L500.6 457.4L486.4 481.2z" fill="#37AD6B"/>
<line x1="397" y1="574.1" x2="575.5" y2="574.1" stroke="#B177DE" stroke-width="2.9"/>
<path d="M486.4 559.3L501.0 574.1L486.4 588.9L471.8 574.1z" fill="#B177DE"/>
<text transform="translate(596,148.5) scale(1,1.02)" font-size="78.4">Blank 1.0M HNO<tspan font-size="52" dx="-2" dy="21">3</tspan></text>
<text transform="translate(598,273.9) scale(1,1.02)" font-size="78.4">5 x 10<tspan font-size="51" dy="-32">-5</tspan><tspan dy="32">M</tspan></text>
<text transform="translate(598,382.9) scale(1,1.02)" font-size="78.4">10 x 10<tspan font-size="51" dy="-32">-5</tspan><tspan dy="32">M</tspan></text>
<text transform="translate(598,491.6) scale(1,1.02)" font-size="78.4">15 x 10<tspan font-size="51" dy="-32">-5</tspan><tspan dy="32">M</tspan></text>
<text transform="translate(598,600.7) scale(1,1.02)" font-size="78.4">20 x 10<tspan font-size="51" dy="-32">-5</tspan><tspan dy="32">M</tspan></text>
</svg></body></html>
